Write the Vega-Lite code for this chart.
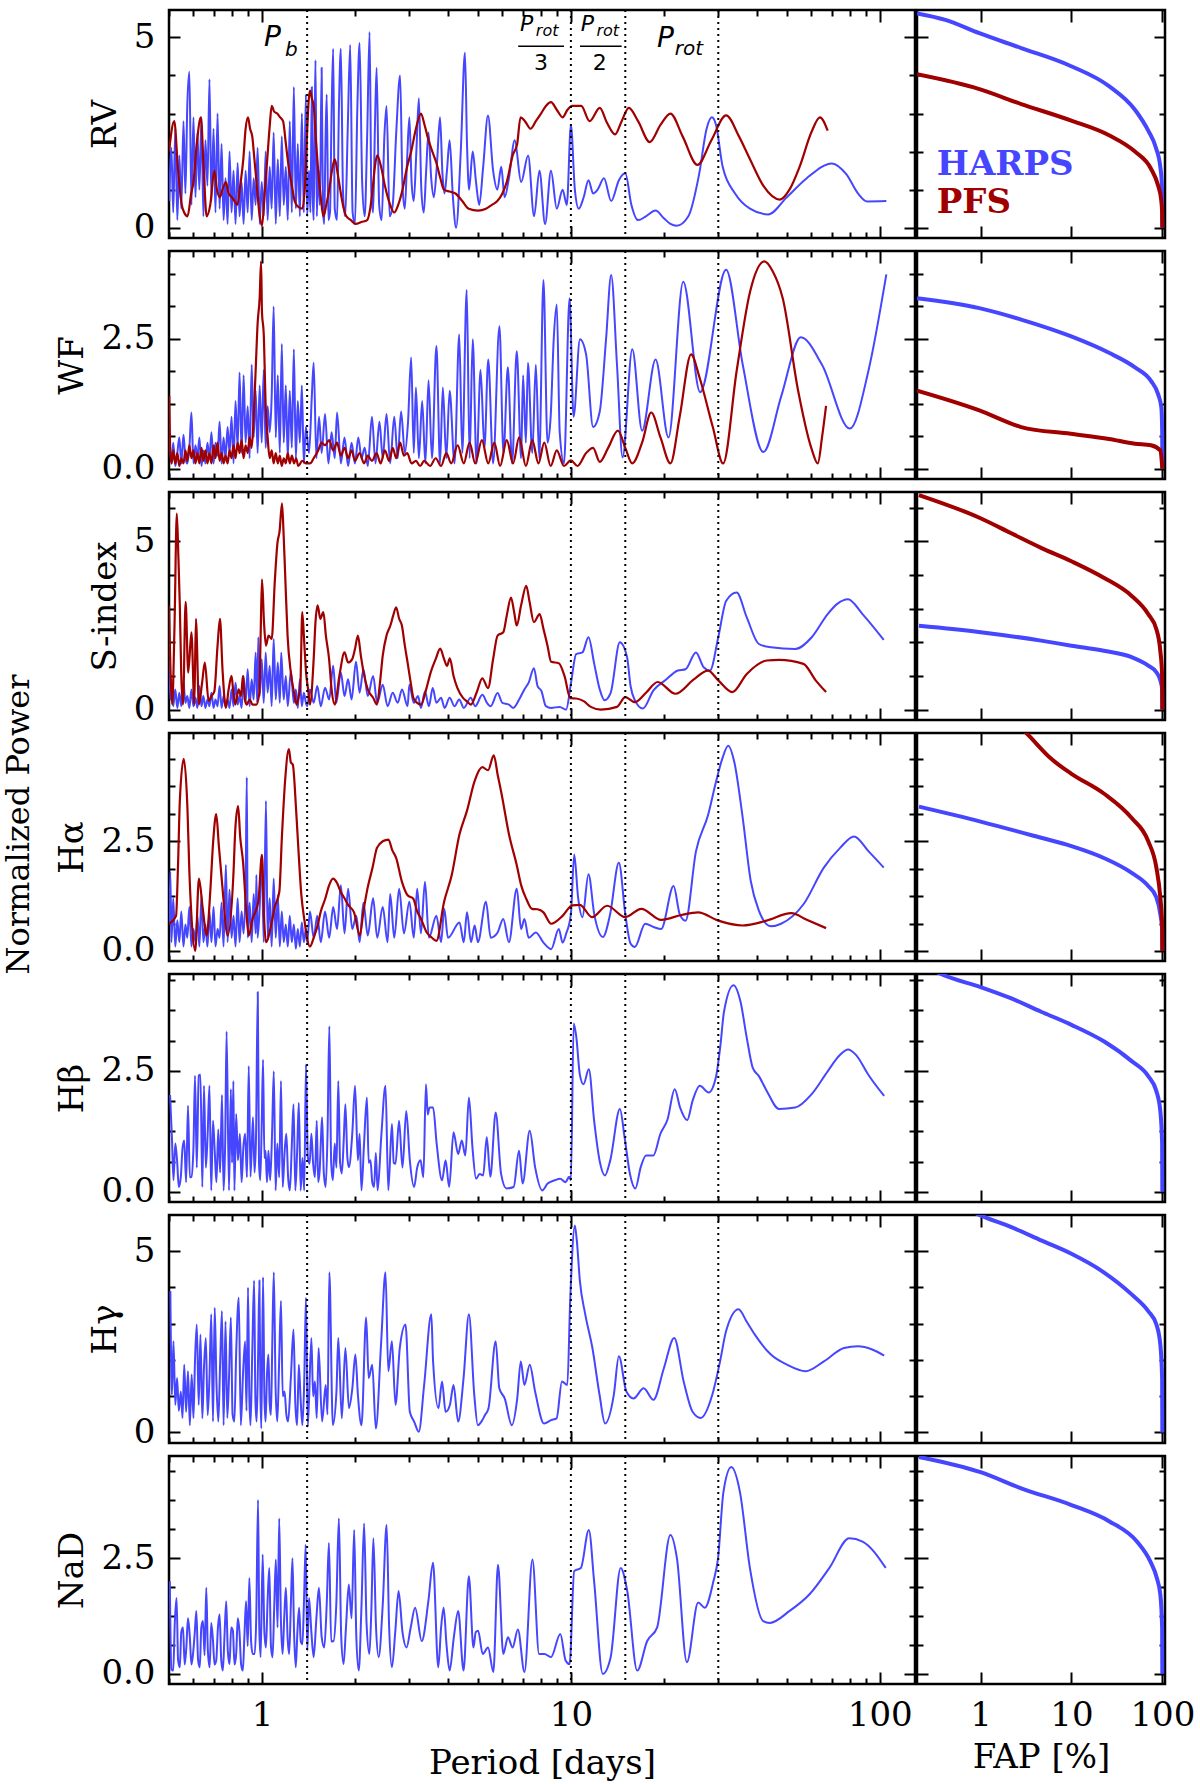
{
  "$schema": "https://vega.github.io/schema/vega-lite/v6.json",
  "background": "white",
  "padding": {"left": 2, "top": 7, "right": 4, "bottom": 4},
  "bounds": "flush",
  "title": {"text": "Normalized Power", "orient": "left", "anchor": "middle", "font": "DejaVu Serif", "fontSize": 32, "fontWeight": "normal", "color": "black", "offset": 19, "dx": 70},
  "datasets": {
    "lines": [{"p": 1.4}, {"p": 10}, {"p": 15}, {"p": 30}],
    "annBig": [{"p": 1.015, "v": 4.98, "t": "P"}, {"p": 19.0, "v": 4.95, "t": "P"}],
    "annBigSub": [{"p": 1.187, "v": 4.68, "t": "b"}, {"p": 21.7, "v": 4.7, "t": "rot"}],
    "annSmall": [{"p": 6.84, "v": 5.36, "t": "P"}, {"p": 10.77, "v": 5.36, "t": "P"}],
    "annSmallSub": [{"p": 7.7, "v": 5.18, "t": "rot"}, {"p": 12.1, "v": 5.18, "t": "rot"}],
    "annDen": [{"p": 8.0, "v": 4.33, "t": "3"}, {"p": 12.4, "v": 4.33, "t": "2"}],
    "bars": [{"p": 6.75, "p2": 9.5, "v": 4.77}, {"p": 10.7, "p2": 14.6, "v": 4.77}],
    "legend": [{"p": 0.33, "v": 1.64, "t": "HARPS"}, {"p": 0.33, "v": 0.65, "t": "PFS"}],
    "rv_h": [{"p":0.501,"v":0.7},{"p":0.509,"v":2.1},{"p":0.516,"v":0.4},{"p":0.524,"v":2.6},{"p":0.532,"v":0.2},{"p":0.54,"v":1.9},{"p":0.548,"v":0.5},{"p":0.557,"v":2.8},{"p":0.565,"v":0.9},{"p":0.573,"v":3.2},{"p":0.582,"v":4.1},{"p":0.591,"v":0.6},{"p":0.6,"v":2.9},{"p":0.609,"v":0.8},{"p":0.618,"v":2.5},{"p":0.627,"v":1.0},{"p":0.637,"v":2.9},{"p":0.646,"v":0.3},{"p":0.656,"v":2.3},{"p":0.666,"v":1.1},{"p":0.676,"v":3.9},{"p":0.686,"v":0.7},{"p":0.697,"v":2.6},{"p":0.707,"v":0.4},{"p":0.718,"v":3.0},{"p":0.729,"v":0.5},{"p":0.74,"v":2.2},{"p":0.751,"v":0.2},{"p":0.762,"v":1.3},{"p":0.774,"v":0.1},{"p":0.785,"v":2.0},{"p":0.797,"v":0.4},{"p":0.809,"v":1.5},{"p":0.821,"v":0.1},{"p":0.834,"v":1.7},{"p":0.846,"v":0.3},{"p":0.859,"v":1.2},{"p":0.872,"v":0.1},{"p":0.885,"v":1.5},{"p":0.899,"v":0.4},{"p":0.912,"v":2.0},{"p":0.926,"v":0.2},{"p":0.94,"v":1.3},{"p":0.954,"v":0.6},{"p":0.968,"v":2.1},{"p":0.983,"v":0.1},{"p":0.998,"v":1.2},{"p":1.013,"v":0.3},{"p":1.028,"v":2.0},{"p":1.043,"v":0.2},{"p":1.059,"v":1.6},{"p":1.075,"v":0.5},{"p":1.091,"v":2.5},{"p":1.108,"v":0.1},{"p":1.125,"v":1.8},{"p":1.142,"v":0.3},{"p":1.159,"v":2.4},{"p":1.176,"v":0.6},{"p":1.194,"v":1.6},{"p":1.212,"v":0.2},{"p":1.23,"v":2.8},{"p":1.249,"v":0.4},{"p":1.268,"v":3.7},{"p":1.287,"v":0.5},{"p":1.306,"v":2.2},{"p":1.326,"v":0.3},{"p":1.346,"v":3.0},{"p":1.366,"v":0.4},{"p":1.387,"v":3.5},{"p":1.4,"v":0.3},{"p":1.42,"v":1.5},{"p":1.435,"v":0.4},{"p":1.45,"v":3.7},{"p":1.46,"v":0.8},{"p":1.47,"v":0.2},{"p":1.48,"v":2.5},{"p":1.49,"v":4.4},{"p":1.505,"v":0.3},{"p":1.52,"v":1.6},{"p":1.54,"v":0.6},{"p":1.56,"v":4.2},{"p":1.575,"v":0.5},{"p":1.59,"v":0.1},{"p":1.605,"v":2.2},{"p":1.62,"v":3.5},{"p":1.64,"v":0.2},{"p":1.66,"v":0.4},{"p":1.68,"v":3.0},{"p":1.7,"v":4.7},{"p":1.72,"v":0.5},{"p":1.75,"v":0.2},{"p":1.775,"v":3.2},{"p":1.8,"v":4.7},{"p":1.83,"v":0.9},{"p":1.86,"v":0.3},{"p":1.895,"v":2.6},{"p":1.93,"v":4.8},{"p":1.965,"v":0.4},{"p":2.0,"v":0.1},{"p":2.035,"v":3.1},{"p":2.07,"v":4.85},{"p":2.11,"v":1.2},{"p":2.15,"v":0.3},{"p":2.19,"v":2.4},{"p":2.23,"v":5.14},{"p":2.26,"v":0.9},{"p":2.29,"v":0.4},{"p":2.32,"v":2.6},{"p":2.35,"v":4.2},{"p":2.395,"v":0.6},{"p":2.44,"v":0.2},{"p":2.49,"v":2.4},{"p":2.53,"v":3.2},{"p":2.59,"v":0.3},{"p":2.65,"v":0.6},{"p":2.72,"v":2.5},{"p":2.8,"v":4.0},{"p":2.85,"v":1.1},{"p":2.9,"v":0.5},{"p":2.95,"v":1.8},{"p":3.0,"v":2.9},{"p":3.05,"v":1.2},{"p":3.1,"v":0.7},{"p":3.16,"v":2.0},{"p":3.22,"v":3.4},{"p":3.28,"v":1.0},{"p":3.34,"v":0.4},{"p":3.4,"v":1.5},{"p":3.46,"v":2.5},{"p":3.53,"v":1.3},{"p":3.6,"v":0.8},{"p":3.68,"v":1.6},{"p":3.77,"v":2.9},{"p":3.84,"v":1.4},{"p":3.9,"v":0.9},{"p":3.97,"v":1.5},{"p":4.05,"v":2.3},{"p":4.15,"v":0.8},{"p":4.25,"v":0.0},{"p":4.4,"v":2.0},{"p":4.54,"v":4.6},{"p":4.61,"v":2.2},{"p":4.68,"v":1.0},{"p":4.81,"v":2.0},{"p":4.93,"v":1.2},{"p":5.05,"v":0.6},{"p":5.2,"v":1.6},{"p":5.39,"v":2.95},{"p":5.6,"v":1.5},{"p":5.78,"v":1.0},{"p":5.95,"v":1.6},{"p":6.1,"v":0.8},{"p":6.3,"v":1.3},{"p":6.58,"v":2.3},{"p":6.9,"v":1.2},{"p":7.27,"v":1.9},{"p":7.6,"v":0.3},{"p":7.91,"v":1.5},{"p":8.25,"v":0.1},{"p":8.62,"v":1.5},{"p":9.0,"v":0.5},{"p":9.4,"v":1.0},{"p":9.7,"v":0.6},{"p":10.0,"v":2.7},{"p":10.3,"v":1.0},{"p":10.6,"v":0.5},{"p":11.0,"v":0.8},{"p":11.4,"v":1.25},{"p":11.8,"v":0.9},{"p":12.2,"v":1.0},{"p":12.8,"v":1.3},{"p":13.5,"v":0.7},{"p":14.3,"v":1.25},{"p":15.0,"v":1.43},{"p":15.7,"v":0.6},{"p":16.5,"v":0.2},{"p":17.5,"v":0.3},{"p":18.8,"v":0.45},{"p":20,"v":0.25},{"p":21,"v":0.1},{"p":22,"v":0.05},{"p":24,"v":0.3},{"p":26,"v":1.4},{"p":27.5,"v":2.6},{"p":28.6,"v":2.9},{"p":29.5,"v":2.7},{"p":31,"v":1.6},{"p":34,"v":0.9},{"p":38,"v":0.5},{"p":43.5,"v":0.35},{"p":50,"v":0.8},{"p":58,"v":1.3},{"p":70,"v":1.69},{"p":78,"v":1.4},{"p":85,"v":0.9},{"p":91,"v":0.69},{"p":105,"v":0.7}],
    "rv_p": [{"p":0.5,"v":2.0},{"p":0.52,"v":2.8},{"p":0.535,"v":1.5},{"p":0.55,"v":0.6},{"p":0.56,"v":0.4},{"p":0.574,"v":0.3},{"p":0.59,"v":0.9},{"p":0.6,"v":1.2},{"p":0.615,"v":2.2},{"p":0.634,"v":2.9},{"p":0.648,"v":1.5},{"p":0.662,"v":0.3},{"p":0.68,"v":0.6},{"p":0.701,"v":1.5},{"p":0.715,"v":1.0},{"p":0.73,"v":0.8},{"p":0.745,"v":1.0},{"p":0.764,"v":1.2},{"p":0.78,"v":0.9},{"p":0.8,"v":0.8},{"p":0.815,"v":0.7},{"p":0.832,"v":0.6},{"p":0.85,"v":1.1},{"p":0.87,"v":1.8},{"p":0.885,"v":2.6},{"p":0.901,"v":2.9},{"p":0.915,"v":2.6},{"p":0.93,"v":2.4},{"p":0.945,"v":1.8},{"p":0.96,"v":1.2},{"p":0.98,"v":0.4},{"p":1.0,"v":0.05},{"p":1.02,"v":0.9},{"p":1.04,"v":1.8},{"p":1.06,"v":2.7},{"p":1.075,"v":3.2},{"p":1.095,"v":3.05},{"p":1.12,"v":3.0},{"p":1.145,"v":2.9},{"p":1.17,"v":2.8},{"p":1.195,"v":2.2},{"p":1.22,"v":1.6},{"p":1.25,"v":1.1},{"p":1.276,"v":0.7},{"p":1.31,"v":0.55},{"p":1.35,"v":0.5},{"p":1.38,"v":1.2},{"p":1.4,"v":2.5},{"p":1.415,"v":3.3},{"p":1.43,"v":3.6},{"p":1.45,"v":3.4},{"p":1.47,"v":3.2},{"p":1.495,"v":2.3},{"p":1.52,"v":1.5},{"p":1.55,"v":0.8},{"p":1.58,"v":0.3},{"p":1.615,"v":0.6},{"p":1.65,"v":1.0},{"p":1.685,"v":1.5},{"p":1.72,"v":1.8},{"p":1.76,"v":1.4},{"p":1.8,"v":0.9},{"p":1.84,"v":0.5},{"p":1.875,"v":0.3},{"p":1.94,"v":0.2},{"p":2.01,"v":0.1},{"p":2.1,"v":0.15},{"p":2.19,"v":0.2},{"p":2.24,"v":0.5},{"p":2.28,"v":1.0},{"p":2.32,"v":1.6},{"p":2.36,"v":1.9},{"p":2.43,"v":1.6},{"p":2.5,"v":1.1},{"p":2.6,"v":0.6},{"p":2.68,"v":0.4},{"p":2.76,"v":0.6},{"p":2.85,"v":1.0},{"p":2.95,"v":1.6},{"p":3.04,"v":2.0},{"p":3.15,"v":2.6},{"p":3.27,"v":3.0},{"p":3.36,"v":2.7},{"p":3.46,"v":2.3},{"p":3.56,"v":2.0},{"p":3.67,"v":1.7},{"p":3.78,"v":1.3},{"p":3.88,"v":1.0},{"p":4.05,"v":0.95},{"p":4.23,"v":0.9},{"p":4.45,"v":0.7},{"p":4.67,"v":0.5},{"p":5.0,"v":0.45},{"p":5.31,"v":0.5},{"p":5.55,"v":0.6},{"p":5.78,"v":0.7},{"p":6.0,"v":0.9},{"p":6.2,"v":1.2},{"p":6.48,"v":1.9},{"p":6.7,"v":2.2},{"p":6.87,"v":2.9},{"p":7.1,"v":2.8},{"p":7.4,"v":2.6},{"p":7.7,"v":2.8},{"p":8.0,"v":3.0},{"p":8.3,"v":3.2},{"p":8.62,"v":3.3},{"p":9.0,"v":3.1},{"p":9.4,"v":2.9},{"p":9.75,"v":3.1},{"p":10.1,"v":3.2},{"p":10.8,"v":3.2},{"p":11.5,"v":2.8},{"p":12.4,"v":3.15},{"p":13.1,"v":2.75},{"p":13.9,"v":2.45},{"p":14.6,"v":2.8},{"p":15.4,"v":3.15},{"p":16.5,"v":2.8},{"p":18,"v":2.25},{"p":19.5,"v":2.7},{"p":21,"v":3.0},{"p":23,"v":2.4},{"p":25.7,"v":1.65},{"p":28.5,"v":2.3},{"p":31.8,"v":2.95},{"p":35,"v":2.4},{"p":38,"v":1.8},{"p":42,"v":1.1},{"p":47.5,"v":0.74},{"p":51,"v":1.0},{"p":55,"v":1.6},{"p":60,"v":2.5},{"p":64,"v":2.9},{"p":67.8,"v":2.55}],
    "wf_h": [{"p":0.501,"v":0.7},{"p":0.509,"v":0.1},{"p":0.516,"v":0.5},{"p":0.524,"v":0.05},{"p":0.532,"v":0.3},{"p":0.54,"v":0.6},{"p":0.548,"v":0.1},{"p":0.557,"v":0.65},{"p":0.565,"v":0.2},{"p":0.573,"v":0.1},{"p":0.582,"v":0.4},{"p":0.591,"v":1.08},{"p":0.6,"v":0.1},{"p":0.609,"v":0.45},{"p":0.618,"v":0.2},{"p":0.627,"v":0.6},{"p":0.637,"v":0.05},{"p":0.646,"v":0.35},{"p":0.656,"v":0.1},{"p":0.666,"v":0.5},{"p":0.676,"v":0.2},{"p":0.686,"v":0.7},{"p":0.697,"v":0.1},{"p":0.707,"v":0.5},{"p":0.718,"v":0.25},{"p":0.729,"v":0.9},{"p":0.74,"v":0.1},{"p":0.751,"v":0.6},{"p":0.762,"v":0.2},{"p":0.774,"v":0.8},{"p":0.785,"v":0.3},{"p":0.797,"v":1.0},{"p":0.809,"v":0.1},{"p":0.821,"v":1.3},{"p":0.834,"v":0.4},{"p":0.846,"v":1.85},{"p":0.859,"v":0.3},{"p":0.872,"v":1.8},{"p":0.885,"v":0.5},{"p":0.899,"v":1.2},{"p":0.912,"v":0.2},{"p":0.926,"v":2.0},{"p":0.94,"v":0.6},{"p":0.954,"v":1.5},{"p":0.968,"v":0.3},{"p":0.983,"v":1.6},{"p":0.998,"v":0.5},{"p":1.013,"v":1.9},{"p":1.028,"v":0.4},{"p":1.043,"v":1.2},{"p":1.059,"v":0.7},{"p":1.075,"v":1.4},{"p":1.091,"v":3.12},{"p":1.108,"v":0.6},{"p":1.125,"v":1.8},{"p":1.142,"v":0.3},{"p":1.159,"v":2.4},{"p":1.176,"v":0.5},{"p":1.194,"v":1.6},{"p":1.212,"v":0.2},{"p":1.23,"v":1.5},{"p":1.249,"v":0.4},{"p":1.268,"v":2.3},{"p":1.287,"v":0.2},{"p":1.306,"v":1.3},{"p":1.326,"v":0.5},{"p":1.346,"v":1.6},{"p":1.366,"v":0.1},{"p":1.387,"v":0.8},{"p":1.42,"v":0.3},{"p":1.45,"v":1.4},{"p":1.47,"v":2.04},{"p":1.5,"v":0.2},{"p":1.53,"v":1.0},{"p":1.56,"v":0.3},{"p":1.6,"v":1.05},{"p":1.64,"v":0.1},{"p":1.68,"v":0.7},{"p":1.72,"v":0.2},{"p":1.75,"v":1.08},{"p":1.8,"v":0.1},{"p":1.85,"v":0.6},{"p":1.9,"v":0.05},{"p":1.95,"v":0.5},{"p":2.0,"v":0.1},{"p":2.05,"v":0.6},{"p":2.1,"v":0.2},{"p":2.15,"v":0.4},{"p":2.2,"v":0.05},{"p":2.27,"v":1.0},{"p":2.33,"v":0.1},{"p":2.4,"v":0.9},{"p":2.46,"v":0.2},{"p":2.53,"v":1.05},{"p":2.6,"v":0.1},{"p":2.68,"v":1.0},{"p":2.75,"v":0.2},{"p":2.82,"v":1.1},{"p":2.9,"v":0.3},{"p":2.97,"v":0.9},{"p":3.04,"v":2.14},{"p":3.1,"v":0.3},{"p":3.15,"v":1.56},{"p":3.22,"v":0.2},{"p":3.3,"v":1.3},{"p":3.38,"v":0.1},{"p":3.46,"v":1.7},{"p":3.55,"v":0.2},{"p":3.67,"v":2.36},{"p":3.77,"v":0.1},{"p":3.85,"v":1.56},{"p":3.95,"v":0.2},{"p":4.05,"v":1.5},{"p":4.2,"v":0.1},{"p":4.35,"v":2.58},{"p":4.45,"v":0.3},{"p":4.6,"v":3.44},{"p":4.7,"v":0.2},{"p":4.81,"v":2.49},{"p":4.95,"v":0.1},{"p":5.1,"v":1.9},{"p":5.25,"v":0.4},{"p":5.4,"v":2.1},{"p":5.6,"v":0.1},{"p":5.87,"v":2.74},{"p":6.05,"v":0.3},{"p":6.25,"v":1.95},{"p":6.45,"v":0.1},{"p":6.68,"v":2.26},{"p":6.9,"v":0.2},{"p":7.0,"v":1.8},{"p":7.15,"v":0.5},{"p":7.26,"v":2.04},{"p":7.5,"v":0.3},{"p":7.7,"v":2.0},{"p":7.9,"v":0.2},{"p":8.15,"v":3.63},{"p":8.4,"v":0.5},{"p":8.6,"v":1.0},{"p":8.8,"v":2.5},{"p":9.0,"v":3.16},{"p":9.2,"v":0.7},{"p":9.5,"v":0.1},{"p":9.9,"v":3.28},{"p":10.2,"v":1.0},{"p":10.7,"v":2.49},{"p":11.2,"v":2.2},{"p":11.8,"v":0.8},{"p":12.4,"v":1.1},{"p":13.0,"v":2.5},{"p":13.5,"v":3.73},{"p":14.1,"v":2.0},{"p":14.7,"v":0.22},{"p":15.8,"v":2.3},{"p":17,"v":0.73},{"p":18.8,"v":2.1},{"p":20.7,"v":0.6},{"p":23.1,"v":3.6},{"p":26.2,"v":1.47},{"p":31.8,"v":3.83},{"p":36,"v":2.0},{"p":42,"v":0.32},{"p":48,"v":1.4},{"p":55.5,"v":2.53},{"p":65,"v":2.0},{"p":80,"v":0.77},{"p":92,"v":1.9},{"p":105,"v":3.74}],
    "wf_p": [{"p":0.501,"v":1.4},{"p":0.505,"v":0.3},{"p":0.51,"v":0.1},{"p":0.516,"v":0.35},{"p":0.524,"v":0.1},{"p":0.532,"v":0.3},{"p":0.54,"v":0.05},{"p":0.548,"v":0.2},{"p":0.557,"v":0.1},{"p":0.565,"v":0.35},{"p":0.573,"v":0.15},{"p":0.582,"v":0.45},{"p":0.591,"v":0.2},{"p":0.6,"v":0.35},{"p":0.609,"v":0.1},{"p":0.618,"v":0.3},{"p":0.627,"v":0.1},{"p":0.637,"v":0.4},{"p":0.646,"v":0.15},{"p":0.656,"v":0.35},{"p":0.666,"v":0.1},{"p":0.676,"v":0.3},{"p":0.686,"v":0.1},{"p":0.697,"v":0.45},{"p":0.707,"v":0.2},{"p":0.718,"v":0.5},{"p":0.729,"v":0.15},{"p":0.74,"v":0.3},{"p":0.751,"v":0.1},{"p":0.762,"v":0.25},{"p":0.774,"v":0.1},{"p":0.785,"v":0.35},{"p":0.797,"v":0.2},{"p":0.809,"v":0.45},{"p":0.821,"v":0.2},{"p":0.834,"v":0.5},{"p":0.846,"v":0.3},{"p":0.859,"v":0.55},{"p":0.872,"v":0.2},{"p":0.885,"v":0.45},{"p":0.899,"v":0.3},{"p":0.912,"v":0.6},{"p":0.926,"v":0.4},{"p":0.94,"v":1.0},{"p":0.954,"v":1.9},{"p":0.968,"v":2.8},{"p":0.983,"v":3.3},{"p":0.993,"v":3.99},{"p":1.0,"v":3.0},{"p":1.013,"v":2.6},{"p":1.028,"v":1.2},{"p":1.043,"v":0.6},{"p":1.059,"v":0.2},{"p":1.075,"v":0.35},{"p":1.091,"v":0.1},{"p":1.108,"v":0.3},{"p":1.125,"v":0.1},{"p":1.142,"v":0.25},{"p":1.159,"v":0.05},{"p":1.176,"v":0.2},{"p":1.194,"v":0.1},{"p":1.212,"v":0.3},{"p":1.23,"v":0.1},{"p":1.25,"v":0.25},{"p":1.27,"v":0.1},{"p":1.29,"v":0.2},{"p":1.31,"v":0.05},{"p":1.35,"v":0.15},{"p":1.39,"v":0.1},{"p":1.43,"v":0.1},{"p":1.47,"v":0.2},{"p":1.52,"v":0.35},{"p":1.56,"v":0.5},{"p":1.6,"v":0.45},{"p":1.65,"v":0.55},{"p":1.7,"v":0.35},{"p":1.75,"v":0.5},{"p":1.8,"v":0.25},{"p":1.85,"v":0.4},{"p":1.9,"v":0.2},{"p":1.95,"v":0.35},{"p":2.0,"v":0.15},{"p":2.07,"v":0.3},{"p":2.14,"v":0.1},{"p":2.2,"v":0.25},{"p":2.27,"v":0.15},{"p":2.35,"v":0.3},{"p":2.42,"v":0.1},{"p":2.5,"v":0.35},{"p":2.58,"v":0.15},{"p":2.65,"v":0.4},{"p":2.72,"v":0.2},{"p":2.8,"v":0.5},{"p":2.88,"v":0.25},{"p":2.95,"v":0.3},{"p":3.05,"v":0.1},{"p":3.15,"v":0.15},{"p":3.25,"v":0.05},{"p":3.35,"v":0.15},{"p":3.5,"v":0.05},{"p":3.65,"v":0.2},{"p":3.8,"v":0.05},{"p":3.95,"v":0.3},{"p":4.1,"v":0.1},{"p":4.3,"v":0.45},{"p":4.5,"v":0.1},{"p":4.7,"v":0.5},{"p":4.9,"v":0.1},{"p":5.15,"v":0.55},{"p":5.4,"v":0.1},{"p":5.65,"v":0.5},{"p":5.9,"v":0.05},{"p":6.2,"v":0.55},{"p":6.5,"v":0.1},{"p":6.8,"v":0.6},{"p":7.15,"v":0.05},{"p":7.5,"v":0.55},{"p":7.85,"v":0.1},{"p":8.2,"v":0.5},{"p":8.6,"v":0.05},{"p":9.0,"v":0.35},{"p":9.5,"v":0.05},{"p":10.0,"v":0.16},{"p":10.5,"v":0.05},{"p":11.2,"v":0.3},{"p":11.8,"v":0.4},{"p":12.4,"v":0.13},{"p":13.2,"v":0.4},{"p":14.2,"v":0.73},{"p":15.0,"v":0.4},{"p":15.8,"v":0.1},{"p":17,"v":0.5},{"p":18.2,"v":1.08},{"p":19.5,"v":0.6},{"p":21,"v":0.1},{"p":22.5,"v":1.0},{"p":24.5,"v":2.2},{"p":26.1,"v":1.75},{"p":28.8,"v":0.8},{"p":31.1,"v":0.1},{"p":34.4,"v":1.88},{"p":38,"v":3.4},{"p":42.3,"v":3.99},{"p":45,"v":3.8},{"p":48.5,"v":3.28},{"p":54.4,"v":1.5},{"p":60,"v":0.4},{"p":63,"v":0.1},{"p":65,"v":0.6},{"p":67,"v":1.21}],
    "s_h": [{"p":0.501,"v":1.47},{"p":0.505,"v":0.3},{"p":0.509,"v":0.9},{"p":0.516,"v":0.1},{"p":0.524,"v":0.6},{"p":0.532,"v":0.05},{"p":0.54,"v":0.5},{"p":0.548,"v":0.1},{"p":0.557,"v":0.8},{"p":0.565,"v":0.2},{"p":0.573,"v":0.4},{"p":0.582,"v":0.05},{"p":0.591,"v":0.6},{"p":0.6,"v":0.1},{"p":0.609,"v":0.35},{"p":0.618,"v":0.05},{"p":0.627,"v":0.7},{"p":0.637,"v":0.1},{"p":0.646,"v":0.4},{"p":0.656,"v":0.05},{"p":0.666,"v":0.3},{"p":0.676,"v":0.1},{"p":0.686,"v":0.5},{"p":0.697,"v":0.05},{"p":0.707,"v":0.3},{"p":0.718,"v":0.1},{"p":0.729,"v":0.7},{"p":0.74,"v":0.05},{"p":0.751,"v":0.4},{"p":0.762,"v":0.1},{"p":0.774,"v":0.3},{"p":0.785,"v":0.05},{"p":0.797,"v":0.6},{"p":0.809,"v":0.1},{"p":0.821,"v":0.8},{"p":0.834,"v":0.15},{"p":0.846,"v":0.4},{"p":0.859,"v":0.05},{"p":0.872,"v":1.0},{"p":0.885,"v":0.2},{"p":0.899,"v":1.2},{"p":0.912,"v":0.1},{"p":0.926,"v":0.9},{"p":0.94,"v":0.3},{"p":0.954,"v":1.7},{"p":0.965,"v":0.2},{"p":0.973,"v":2.15},{"p":0.983,"v":0.4},{"p":0.998,"v":1.5},{"p":1.013,"v":0.2},{"p":1.028,"v":1.7},{"p":1.043,"v":0.5},{"p":1.059,"v":1.3},{"p":1.075,"v":0.1},{"p":1.091,"v":2.1},{"p":1.108,"v":0.3},{"p":1.125,"v":1.4},{"p":1.142,"v":0.2},{"p":1.154,"v":1.7},{"p":1.176,"v":0.3},{"p":1.194,"v":1.0},{"p":1.212,"v":0.1},{"p":1.24,"v":1.15},{"p":1.268,"v":0.2},{"p":1.287,"v":0.6},{"p":1.306,"v":0.05},{"p":1.326,"v":0.9},{"p":1.346,"v":0.1},{"p":1.366,"v":0.5},{"p":1.387,"v":0.2},{"p":1.4,"v":0.1},{"p":1.43,"v":0.6},{"p":1.47,"v":0.2},{"p":1.51,"v":0.7},{"p":1.55,"v":0.1},{"p":1.6,"v":0.65},{"p":1.65,"v":0.3},{"p":1.7,"v":1.3},{"p":1.74,"v":0.2},{"p":1.8,"v":1.1},{"p":1.85,"v":0.4},{"p":1.9,"v":0.9},{"p":1.95,"v":0.3},{"p":2.015,"v":1.42},{"p":2.07,"v":0.5},{"p":2.13,"v":1.2},{"p":2.2,"v":0.4},{"p":2.29,"v":1.0},{"p":2.36,"v":0.2},{"p":2.46,"v":0.74},{"p":2.55,"v":0.1},{"p":2.65,"v":0.5},{"p":2.75,"v":0.2},{"p":2.84,"v":0.6},{"p":2.96,"v":0.1},{"p":3.0,"v":0.74},{"p":3.1,"v":0.2},{"p":3.2,"v":0.4},{"p":3.27,"v":0.05},{"p":3.37,"v":0.54},{"p":3.47,"v":0.1},{"p":3.57,"v":0.64},{"p":3.67,"v":0.2},{"p":3.8,"v":0.35},{"p":3.9,"v":0.05},{"p":4.05,"v":0.35},{"p":4.2,"v":0.1},{"p":4.35,"v":0.3},{"p":4.5,"v":0.05},{"p":4.74,"v":0.35},{"p":4.9,"v":0.1},{"p":5.17,"v":0.44},{"p":5.35,"v":0.2},{"p":5.5,"v":0.1},{"p":5.79,"v":0.49},{"p":6.0,"v":0.2},{"p":6.3,"v":0.15},{"p":6.5,"v":0.05},{"p":6.8,"v":0.3},{"p":7.07,"v":0.6},{"p":7.3,"v":0.8},{"p":7.59,"v":1.23},{"p":7.8,"v":0.7},{"p":8.03,"v":0.55},{"p":8.3,"v":0.1},{"p":8.63,"v":0.05},{"p":9.2,"v":0.08},{"p":9.65,"v":0.0},{"p":10.0,"v":0.77},{"p":10.4,"v":1.65},{"p":10.9,"v":1.7},{"p":11.4,"v":2.15},{"p":11.9,"v":1.36},{"p":12.4,"v":0.6},{"p":12.85,"v":0.28},{"p":13.45,"v":0.5},{"p":14.4,"v":2.0},{"p":15.2,"v":1.56},{"p":15.6,"v":0.7},{"p":16.1,"v":0.28},{"p":17.1,"v":0.03},{"p":18.5,"v":0.57},{"p":20.2,"v":0.87},{"p":22.2,"v":1.16},{"p":23.5,"v":1.2},{"p":25.4,"v":1.7},{"p":26.9,"v":1.26},{"p":28.2,"v":1.16},{"p":30.0,"v":2.15},{"p":31.8,"v":3.23},{"p":34.4,"v":3.48},{"p":37.1,"v":2.74},{"p":40.6,"v":1.95},{"p":44.4,"v":1.85},{"p":53.2,"v":1.8},{"p":60.2,"v":2.15},{"p":67.8,"v":2.84},{"p":73,"v":3.15},{"p":78.9,"v":3.28},{"p":87.9,"v":2.84},{"p":103,"v":2.07}],
    "s_p": [{"p":0.5,"v":3.1},{"p":0.512,"v":0.15},{"p":0.521,"v":2.5},{"p":0.53,"v":5.83},{"p":0.536,"v":4.6},{"p":0.542,"v":3.1},{"p":0.548,"v":1.0},{"p":0.555,"v":0.15},{"p":0.566,"v":3.2},{"p":0.577,"v":1.1},{"p":0.591,"v":2.3},{"p":0.604,"v":0.15},{"p":0.611,"v":2.7},{"p":0.625,"v":0.15},{"p":0.64,"v":0.8},{"p":0.653,"v":1.4},{"p":0.672,"v":0.25},{"p":0.686,"v":0.4},{"p":0.701,"v":0.54},{"p":0.718,"v":1.9},{"p":0.731,"v":2.7},{"p":0.745,"v":1.2},{"p":0.764,"v":0.05},{"p":0.78,"v":0.6},{"p":0.797,"v":1.0},{"p":0.808,"v":0.5},{"p":0.82,"v":0.15},{"p":0.84,"v":0.6},{"p":0.855,"v":0.4},{"p":0.868,"v":1.0},{"p":0.88,"v":0.3},{"p":0.893,"v":0.15},{"p":0.912,"v":0.3},{"p":0.932,"v":0.15},{"p":0.959,"v":0.15},{"p":0.98,"v":0.5},{"p":0.99,"v":2.2},{"p":1.0,"v":3.87},{"p":1.015,"v":2.6},{"p":1.03,"v":1.9},{"p":1.05,"v":2.2},{"p":1.075,"v":2.1},{"p":1.1,"v":3.8},{"p":1.122,"v":4.95},{"p":1.14,"v":5.3},{"p":1.161,"v":6.13},{"p":1.175,"v":5.2},{"p":1.188,"v":4.07},{"p":1.21,"v":2.2},{"p":1.24,"v":1.1},{"p":1.27,"v":0.5},{"p":1.294,"v":0.15},{"p":1.315,"v":0.4},{"p":1.331,"v":0.7},{"p":1.35,"v":2.9},{"p":1.37,"v":2.0},{"p":1.389,"v":1.1},{"p":1.41,"v":0.6},{"p":1.43,"v":0.15},{"p":1.47,"v":1.5},{"p":1.49,"v":2.6},{"p":1.514,"v":3.1},{"p":1.545,"v":2.7},{"p":1.58,"v":2.9},{"p":1.61,"v":2.2},{"p":1.649,"v":1.5},{"p":1.68,"v":0.6},{"p":1.721,"v":0.15},{"p":1.78,"v":1.0},{"p":1.85,"v":1.7},{"p":1.9,"v":1.4},{"p":1.959,"v":1.5},{"p":2.0,"v":1.8},{"p":2.044,"v":2.2},{"p":2.09,"v":1.6},{"p":2.133,"v":1.1},{"p":2.2,"v":0.6},{"p":2.29,"v":0.35},{"p":2.356,"v":0.15},{"p":2.41,"v":0.8},{"p":2.459,"v":1.6},{"p":2.53,"v":2.2},{"p":2.604,"v":2.5},{"p":2.66,"v":2.8},{"p":2.718,"v":3.04},{"p":2.78,"v":2.7},{"p":2.837,"v":2.5},{"p":2.9,"v":1.9},{"p":2.96,"v":1.4},{"p":3.03,"v":0.8},{"p":3.09,"v":0.35},{"p":3.18,"v":0.2},{"p":3.272,"v":0.15},{"p":3.4,"v":0.6},{"p":3.515,"v":1.1},{"p":3.65,"v":1.5},{"p":3.776,"v":1.81},{"p":3.886,"v":1.5},{"p":3.97,"v":1.3},{"p":4.056,"v":1.52},{"p":4.17,"v":1.0},{"p":4.293,"v":0.64},{"p":4.481,"v":0.34},{"p":4.6,"v":0.25},{"p":4.744,"v":0.15},{"p":4.95,"v":0.5},{"p":5.167,"v":0.93},{"p":5.393,"v":0.64},{"p":5.6,"v":1.5},{"p":5.79,"v":2.2},{"p":6.042,"v":2.3},{"p":6.2,"v":2.8},{"p":6.398,"v":3.33},{"p":6.55,"v":2.9},{"p":6.677,"v":2.5},{"p":6.9,"v":3.1},{"p":7.168,"v":3.68},{"p":7.35,"v":3.2},{"p":7.589,"v":2.6},{"p":7.921,"v":2.84},{"p":8.15,"v":2.4},{"p":8.4,"v":1.9},{"p":8.629,"v":1.42},{"p":9.136,"v":1.38},{"p":9.535,"v":1.0},{"p":9.953,"v":0.34},{"p":10.4,"v":0.33},{"p":11.0,"v":0.25},{"p":11.6,"v":0.08},{"p":12.5,"v":0.0},{"p":14.1,"v":0.08},{"p":15.0,"v":0.37},{"p":16.1,"v":0.22},{"p":17.5,"v":0.5},{"p":19.1,"v":0.82},{"p":21.8,"v":0.47},{"p":25,"v":0.9},{"p":27.8,"v":1.16},{"p":30,"v":0.87},{"p":33.3,"v":0.52},{"p":37.1,"v":1.06},{"p":43.1,"v":1.46},{"p":47.2,"v":1.48},{"p":56.6,"v":1.36},{"p":62,"v":0.87},{"p":67,"v":0.52}],
    "ha_h": [{"p":0.501,"v":0.6},{"p":0.505,"v":1.8},{"p":0.509,"v":0.2},{"p":0.516,"v":1.2},{"p":0.524,"v":0.1},{"p":0.532,"v":0.7},{"p":0.54,"v":0.2},{"p":0.548,"v":0.9},{"p":0.557,"v":0.1},{"p":0.565,"v":0.6},{"p":0.573,"v":0.3},{"p":0.582,"v":1.0},{"p":0.591,"v":0.1},{"p":0.6,"v":0.5},{"p":0.609,"v":0.2},{"p":0.618,"v":0.8},{"p":0.627,"v":0.1},{"p":0.637,"v":1.27},{"p":0.646,"v":0.2},{"p":0.656,"v":0.6},{"p":0.666,"v":0.1},{"p":0.676,"v":0.9},{"p":0.686,"v":0.2},{"p":0.697,"v":1.0},{"p":0.707,"v":0.1},{"p":0.718,"v":0.5},{"p":0.729,"v":0.3},{"p":0.74,"v":1.1},{"p":0.751,"v":0.1},{"p":0.764,"v":1.96},{"p":0.774,"v":0.2},{"p":0.785,"v":1.4},{"p":0.797,"v":0.3},{"p":0.809,"v":0.8},{"p":0.821,"v":0.1},{"p":0.834,"v":1.2},{"p":0.846,"v":0.2},{"p":0.859,"v":0.9},{"p":0.872,"v":0.4},{"p":0.885,"v":1.5},{"p":0.893,"v":3.96},{"p":0.899,"v":0.3},{"p":0.912,"v":1.1},{"p":0.926,"v":0.2},{"p":0.94,"v":1.3},{"p":0.954,"v":0.4},{"p":0.959,"v":1.73},{"p":0.968,"v":0.3},{"p":0.983,"v":1.0},{"p":0.998,"v":2.19},{"p":1.013,"v":0.2},{"p":1.03,"v":3.42},{"p":1.043,"v":0.3},{"p":1.059,"v":1.2},{"p":1.075,"v":0.1},{"p":1.091,"v":1.65},{"p":1.108,"v":0.3},{"p":1.125,"v":1.27},{"p":1.142,"v":0.1},{"p":1.159,"v":0.9},{"p":1.176,"v":0.2},{"p":1.194,"v":0.6},{"p":1.212,"v":0.1},{"p":1.23,"v":0.8},{"p":1.249,"v":0.2},{"p":1.268,"v":0.6},{"p":1.287,"v":0.05},{"p":1.306,"v":0.5},{"p":1.326,"v":0.1},{"p":1.346,"v":0.65},{"p":1.366,"v":0.2},{"p":1.387,"v":0.5},{"p":1.4,"v":0.2},{"p":1.43,"v":0.9},{"p":1.47,"v":0.3},{"p":1.51,"v":0.8},{"p":1.55,"v":0.2},{"p":1.6,"v":0.9},{"p":1.65,"v":0.3},{"p":1.7,"v":1.0},{"p":1.75,"v":0.5},{"p":1.8,"v":1.5},{"p":1.85,"v":0.4},{"p":1.9,"v":1.42},{"p":1.96,"v":0.5},{"p":2.02,"v":0.8},{"p":2.07,"v":0.2},{"p":2.13,"v":1.1},{"p":2.2,"v":0.35},{"p":2.29,"v":1.2},{"p":2.36,"v":0.3},{"p":2.46,"v":1.0},{"p":2.55,"v":0.2},{"p":2.6,"v":1.3},{"p":2.68,"v":0.3},{"p":2.78,"v":1.42},{"p":2.88,"v":0.4},{"p":3.0,"v":1.12},{"p":3.1,"v":0.3},{"p":3.18,"v":1.42},{"p":3.27,"v":0.4},{"p":3.37,"v":1.58},{"p":3.47,"v":0.3},{"p":3.67,"v":0.8},{"p":3.8,"v":0.2},{"p":3.89,"v":0.96},{"p":4.0,"v":0.3},{"p":4.36,"v":0.65},{"p":4.5,"v":0.2},{"p":4.61,"v":0.88},{"p":4.75,"v":0.2},{"p":4.88,"v":0.58},{"p":5.0,"v":0.2},{"p":5.31,"v":1.12},{"p":5.5,"v":0.3},{"p":5.79,"v":0.42},{"p":6.04,"v":0.73},{"p":6.3,"v":0.2},{"p":6.68,"v":1.42},{"p":6.9,"v":0.5},{"p":7.07,"v":0.73},{"p":7.3,"v":0.3},{"p":7.7,"v":0.42},{"p":8.15,"v":0.19},{"p":8.63,"v":0.04},{"p":9.14,"v":0.5},{"p":9.4,"v":0.19},{"p":9.65,"v":0.39},{"p":10.0,"v":0.84},{"p":10.25,"v":2.2},{"p":10.55,"v":1.22},{"p":10.9,"v":0.77},{"p":11.4,"v":1.75},{"p":11.9,"v":0.84},{"p":12.7,"v":0.32},{"p":13.4,"v":0.84},{"p":14.3,"v":2.01},{"p":15.0,"v":0.84},{"p":15.6,"v":0.17},{"p":16.1,"v":0.09},{"p":17.4,"v":0.62},{"p":18.6,"v":0.54},{"p":19.6,"v":0.5},{"p":21.5,"v":1.48},{"p":22.5,"v":0.84},{"p":23.5,"v":0.69},{"p":25.4,"v":2.27},{"p":27.8,"v":3.1},{"p":29.5,"v":3.86},{"p":30.9,"v":4.38},{"p":32.3,"v":4.68},{"p":33.8,"v":4.31},{"p":36,"v":3.03},{"p":38.2,"v":1.6},{"p":40.6,"v":0.92},{"p":44.4,"v":0.56},{"p":47.9,"v":0.62},{"p":56.7,"v":1.07},{"p":65.9,"v":1.9},{"p":74.4,"v":2.35},{"p":82.5,"v":2.61},{"p":92,"v":2.27},{"p":103,"v":1.9}],
    "ha_p": [{"p":0.5,"v":0.62},{"p":0.527,"v":0.8},{"p":0.535,"v":2.0},{"p":0.542,"v":3.42},{"p":0.558,"v":4.38},{"p":0.574,"v":3.2},{"p":0.582,"v":1.8},{"p":0.591,"v":0.8},{"p":0.608,"v":0.0},{"p":0.625,"v":1.65},{"p":0.643,"v":0.97},{"p":0.662,"v":0.35},{"p":0.681,"v":1.42},{"p":0.695,"v":2.5},{"p":0.711,"v":3.12},{"p":0.725,"v":2.4},{"p":0.742,"v":1.58},{"p":0.775,"v":0.35},{"p":0.808,"v":1.73},{"p":0.82,"v":2.8},{"p":0.837,"v":3.3},{"p":0.85,"v":2.6},{"p":0.868,"v":2.04},{"p":0.89,"v":0.9},{"p":0.906,"v":0.35},{"p":0.932,"v":0.73},{"p":0.973,"v":1.12},{"p":1.0,"v":2.19},{"p":1.015,"v":0.8},{"p":1.03,"v":0.2},{"p":1.075,"v":0.65},{"p":1.1,"v":1.0},{"p":1.138,"v":1.35},{"p":1.16,"v":2.6},{"p":1.188,"v":3.88},{"p":1.222,"v":4.6},{"p":1.24,"v":4.3},{"p":1.258,"v":4.25},{"p":1.29,"v":3.2},{"p":1.313,"v":2.27},{"p":1.34,"v":1.3},{"p":1.37,"v":0.73},{"p":1.43,"v":0.1},{"p":1.47,"v":0.3},{"p":1.514,"v":0.58},{"p":1.55,"v":0.9},{"p":1.602,"v":1.19},{"p":1.65,"v":1.5},{"p":1.697,"v":1.65},{"p":1.75,"v":1.55},{"p":1.797,"v":1.35},{"p":1.85,"v":1.2},{"p":1.904,"v":1.04},{"p":1.986,"v":0.88},{"p":2.073,"v":0.35},{"p":2.13,"v":0.9},{"p":2.195,"v":1.42},{"p":2.28,"v":1.9},{"p":2.356,"v":2.35},{"p":2.459,"v":2.5},{"p":2.567,"v":2.54},{"p":2.64,"v":2.3},{"p":2.718,"v":2.12},{"p":2.837,"v":1.58},{"p":2.96,"v":1.27},{"p":3.09,"v":1.19},{"p":3.18,"v":0.9},{"p":3.272,"v":0.73},{"p":3.416,"v":0.42},{"p":3.55,"v":0.3},{"p":3.67,"v":0.23},{"p":3.886,"v":1.12},{"p":4.114,"v":1.73},{"p":4.355,"v":2.65},{"p":4.61,"v":3.2},{"p":4.881,"v":3.88},{"p":5.167,"v":4.19},{"p":5.393,"v":4.12},{"p":5.628,"v":4.46},{"p":5.8,"v":4.0},{"p":5.957,"v":3.6},{"p":6.307,"v":2.65},{"p":6.677,"v":1.96},{"p":6.9,"v":1.5},{"p":7.168,"v":1.19},{"p":7.482,"v":0.96},{"p":7.8,"v":0.95},{"p":8.15,"v":0.88},{"p":8.629,"v":0.62},{"p":9.4,"v":0.8},{"p":10.1,"v":1.04},{"p":10.7,"v":1.05},{"p":11.7,"v":0.77},{"p":13.1,"v":1.03},{"p":15.0,"v":0.77},{"p":16.9,"v":0.96},{"p":19.6,"v":0.71},{"p":22.8,"v":0.82},{"p":25.8,"v":0.88},{"p":30,"v":0.69},{"p":36,"v":0.58},{"p":43,"v":0.69},{"p":51.7,"v":0.86},{"p":58,"v":0.71},{"p":67,"v":0.52}],
    "hb_h": [{"p":0.504,"v":2.0},{"p":0.511,"v":1.13},{"p":0.517,"v":0.24},{"p":0.524,"v":1.0},{"p":0.531,"v":0.65},{"p":0.538,"v":0.1},{"p":0.546,"v":0.31},{"p":0.553,"v":0.9},{"p":0.56,"v":1.06},{"p":0.568,"v":0.2},{"p":0.576,"v":1.78},{"p":0.584,"v":0.3},{"p":0.591,"v":0.31},{"p":0.6,"v":0.92},{"p":0.607,"v":2.4},{"p":0.615,"v":0.5},{"p":0.624,"v":2.4},{"p":0.632,"v":2.42},{"p":0.641,"v":0.1},{"p":0.649,"v":2.19},{"p":0.658,"v":0.5},{"p":0.667,"v":1.2},{"p":0.676,"v":2.19},{"p":0.685,"v":0.03},{"p":0.694,"v":1.47},{"p":0.703,"v":0.85},{"p":0.712,"v":0.2},{"p":0.722,"v":1.29},{"p":0.732,"v":0.4},{"p":0.742,"v":2.0},{"p":0.751,"v":0.03},{"p":0.76,"v":1.0},{"p":0.768,"v":3.31},{"p":0.782,"v":0.03},{"p":0.793,"v":2.12},{"p":0.8,"v":0.6},{"p":0.808,"v":2.29},{"p":0.814,"v":0.03},{"p":0.825,"v":1.61},{"p":0.836,"v":0.65},{"p":0.848,"v":1.2},{"p":0.859,"v":0.2},{"p":0.87,"v":0.9},{"p":0.882,"v":1.2},{"p":0.894,"v":0.3},{"p":0.906,"v":2.6},{"p":0.918,"v":0.31},{"p":0.935,"v":1.54},{"p":0.946,"v":0.4},{"p":0.956,"v":1.06},{"p":0.969,"v":4.13},{"p":0.978,"v":0.6},{"p":0.987,"v":0.24},{"p":0.998,"v":1.4},{"p":1.008,"v":2.73},{"p":1.018,"v":0.7},{"p":1.027,"v":0.85},{"p":1.038,"v":0.2},{"p":1.049,"v":0.85},{"p":1.063,"v":0.24},{"p":1.078,"v":1.2},{"p":1.092,"v":2.49},{"p":1.107,"v":0.03},{"p":1.121,"v":1.0},{"p":1.137,"v":0.3},{"p":1.152,"v":2.29},{"p":1.167,"v":0.1},{"p":1.183,"v":0.8},{"p":1.199,"v":1.2},{"p":1.215,"v":0.3},{"p":1.231,"v":0.03},{"p":1.248,"v":0.9},{"p":1.265,"v":1.81},{"p":1.282,"v":0.03},{"p":1.299,"v":0.8},{"p":1.316,"v":1.84},{"p":1.334,"v":0.03},{"p":1.352,"v":0.7},{"p":1.37,"v":0.03},{"p":1.388,"v":2.63},{"p":1.407,"v":0.72},{"p":1.426,"v":0.58},{"p":1.445,"v":1.2},{"p":1.464,"v":0.58},{"p":1.484,"v":0.3},{"p":1.504,"v":1.47},{"p":1.52,"v":0.2},{"p":1.537,"v":0.44},{"p":1.55,"v":1.0},{"p":1.565,"v":1.54},{"p":1.585,"v":0.4},{"p":1.608,"v":0.1},{"p":1.63,"v":1.2},{"p":1.652,"v":3.42},{"p":1.675,"v":0.6},{"p":1.696,"v":0.24},{"p":1.72,"v":1.0},{"p":1.742,"v":0.5},{"p":1.766,"v":2.29},{"p":1.79,"v":0.6},{"p":1.813,"v":0.38},{"p":1.84,"v":1.1},{"p":1.862,"v":1.81},{"p":1.89,"v":0.7},{"p":1.912,"v":0.51},{"p":1.96,"v":1.2},{"p":2.001,"v":2.19},{"p":2.044,"v":0.65},{"p":2.07,"v":1.2},{"p":2.099,"v":0.03},{"p":2.14,"v":1.0},{"p":2.186,"v":1.95},{"p":2.215,"v":0.6},{"p":2.245,"v":0.65},{"p":2.275,"v":0.2},{"p":2.306,"v":0.1},{"p":2.336,"v":0.8},{"p":2.368,"v":0.03},{"p":2.432,"v":1.13},{"p":2.511,"v":2.19},{"p":2.564,"v":0.03},{"p":2.634,"v":1.4},{"p":2.67,"v":0.6},{"p":2.705,"v":0.58},{"p":2.778,"v":1.47},{"p":2.85,"v":0.5},{"p":2.931,"v":1.67},{"p":3.01,"v":0.65},{"p":3.108,"v":0.1},{"p":3.18,"v":0.5},{"p":3.261,"v":0.65},{"p":3.33,"v":0.3},{"p":3.394,"v":2.22},{"p":3.44,"v":1.6},{"p":3.486,"v":1.74},{"p":3.58,"v":1.74},{"p":3.677,"v":0.99},{"p":3.827,"v":0.24},{"p":3.93,"v":0.65},{"p":4.036,"v":0.1},{"p":4.169,"v":1.23},{"p":4.315,"v":0.78},{"p":4.434,"v":1.06},{"p":4.553,"v":0.75},{"p":4.676,"v":1.95},{"p":4.801,"v":0.92},{"p":4.931,"v":0.27},{"p":5.064,"v":0.37},{"p":5.201,"v":0.34},{"p":5.341,"v":1.13},{"p":5.485,"v":0.31},{"p":5.709,"v":1.64},{"p":5.943,"v":0.37},{"p":6.186,"v":0.07},{"p":6.526,"v":0.1},{"p":6.793,"v":0.85},{"p":6.977,"v":0.17},{"p":7.358,"v":1.26},{"p":7.658,"v":0.51},{"p":8.077,"v":0.03},{"p":8.407,"v":0.17},{"p":8.871,"v":0.24},{"p":9.232,"v":0.27},{"p":9.607,"v":0.2},{"p":9.867,"v":0.31},{"p":10.0,"v":0.24},{"p":10.21,"v":3.48},{"p":10.41,"v":3.2},{"p":10.69,"v":2.42},{"p":10.98,"v":2.22},{"p":11.43,"v":2.53},{"p":11.89,"v":1.47},{"p":12.38,"v":0.65},{"p":12.89,"v":0.34},{"p":13.41,"v":0.65},{"p":14.41,"v":1.71},{"p":14.92,"v":1.13},{"p":15.53,"v":0.37},{"p":16.17,"v":0.07},{"p":16.83,"v":0.51},{"p":17.51,"v":0.75},{"p":18.48,"v":0.75},{"p":19.49,"v":1.2},{"p":20.56,"v":1.5},{"p":21.68,"v":2.12},{"p":22.57,"v":1.74},{"p":23.8,"v":1.48},{"p":24.77,"v":1.88},{"p":26.14,"v":2.19},{"p":27.93,"v":2.05},{"p":29.46,"v":2.36},{"p":30.5,"v":3.04},{"p":31.3,"v":3.72},{"p":33.6,"v":4.27},{"p":35.4,"v":3.93},{"p":37.1,"v":3.18},{"p":38.8,"v":2.56},{"p":40.6,"v":2.39},{"p":43.1,"v":2.08},{"p":47.2,"v":1.71},{"p":53.2,"v":1.74},{"p":60.2,"v":2.02},{"p":67.8,"v":2.49},{"p":74.4,"v":2.83},{"p":78.9,"v":2.94},{"p":83.7,"v":2.83},{"p":91.8,"v":2.42},{"p":103.3,"v":1.98}],
    "hg_h": [{"p":0.505,"v":3.9},{"p":0.511,"v":1.04},{"p":0.517,"v":2.52},{"p":0.524,"v":0.76},{"p":0.531,"v":1.5},{"p":0.538,"v":0.6},{"p":0.546,"v":1.13},{"p":0.553,"v":0.4},{"p":0.56,"v":1.87},{"p":0.568,"v":0.57},{"p":0.576,"v":1.69},{"p":0.584,"v":0.2},{"p":0.592,"v":1.6},{"p":0.6,"v":0.4},{"p":0.607,"v":2.0},{"p":0.615,"v":2.98},{"p":0.624,"v":0.76},{"p":0.632,"v":2.7},{"p":0.641,"v":0.39},{"p":0.649,"v":1.8},{"p":0.658,"v":2.61},{"p":0.667,"v":0.48},{"p":0.676,"v":1.5},{"p":0.685,"v":3.26},{"p":0.694,"v":0.3},{"p":0.703,"v":3.44},{"p":0.712,"v":1.4},{"p":0.722,"v":0.3},{"p":0.732,"v":1.9},{"p":0.742,"v":3.35},{"p":0.751,"v":0.2},{"p":0.762,"v":3.06},{"p":0.772,"v":0.4},{"p":0.782,"v":1.5},{"p":0.793,"v":3.17},{"p":0.803,"v":0.5},{"p":0.814,"v":0.3},{"p":0.825,"v":2.2},{"p":0.841,"v":3.72},{"p":0.854,"v":0.2},{"p":0.868,"v":1.6},{"p":0.882,"v":2.52},{"p":0.891,"v":0.6},{"p":0.901,"v":4.0},{"p":0.91,"v":1.0},{"p":0.918,"v":0.2},{"p":0.93,"v":2.2},{"p":0.943,"v":4.19},{"p":0.952,"v":0.9},{"p":0.961,"v":0.3},{"p":0.971,"v":2.0},{"p":0.981,"v":4.19},{"p":0.988,"v":1.2},{"p":0.995,"v":0.11},{"p":1.008,"v":4.28},{"p":1.018,"v":1.0},{"p":1.027,"v":0.3},{"p":1.038,"v":1.6},{"p":1.049,"v":2.15},{"p":1.059,"v":0.8},{"p":1.069,"v":0.48},{"p":1.08,"v":2.5},{"p":1.092,"v":4.42},{"p":1.107,"v":1.2},{"p":1.121,"v":0.3},{"p":1.136,"v":1.9},{"p":1.152,"v":3.63},{"p":1.167,"v":1.0},{"p":1.183,"v":1.13},{"p":1.199,"v":0.5},{"p":1.215,"v":0.3},{"p":1.24,"v":1.5},{"p":1.265,"v":2.84},{"p":1.282,"v":0.8},{"p":1.299,"v":0.2},{"p":1.316,"v":1.87},{"p":1.334,"v":0.9},{"p":1.352,"v":0.2},{"p":1.37,"v":1.4},{"p":1.388,"v":3.72},{"p":1.407,"v":0.16},{"p":1.445,"v":2.61},{"p":1.464,"v":1.0},{"p":1.484,"v":1.41},{"p":1.504,"v":0.4},{"p":1.525,"v":2.33},{"p":1.565,"v":0.3},{"p":1.608,"v":1.31},{"p":1.63,"v":0.5},{"p":1.652,"v":4.42},{"p":1.696,"v":0.2},{"p":1.742,"v":1.13},{"p":1.766,"v":2.61},{"p":1.813,"v":0.39},{"p":1.862,"v":2.33},{"p":1.912,"v":0.67},{"p":1.96,"v":1.2},{"p":2.006,"v":2.15},{"p":2.044,"v":1.04},{"p":2.099,"v":0.2},{"p":2.174,"v":3.17},{"p":2.215,"v":1.5},{"p":2.275,"v":1.87},{"p":2.336,"v":0.11},{"p":2.432,"v":2.52},{"p":2.511,"v":4.42},{"p":2.564,"v":1.69},{"p":2.634,"v":2.52},{"p":2.705,"v":0.76},{"p":2.793,"v":2.33},{"p":2.915,"v":2.98},{"p":3.01,"v":0.57},{"p":3.108,"v":0.3},{"p":3.218,"v":0.02},{"p":3.349,"v":1.31},{"p":3.533,"v":3.26},{"p":3.58,"v":1.96},{"p":3.726,"v":0.67},{"p":3.827,"v":1.41},{"p":3.93,"v":0.57},{"p":4.058,"v":0.76},{"p":4.169,"v":1.31},{"p":4.315,"v":0.3},{"p":4.493,"v":1.5},{"p":4.676,"v":3.26},{"p":4.866,"v":1.04},{"p":4.997,"v":0.2},{"p":5.132,"v":0.3},{"p":5.27,"v":0.48},{"p":5.412,"v":0.67},{"p":5.709,"v":2.52},{"p":5.864,"v":1.22},{"p":6.105,"v":0.94},{"p":6.439,"v":0.2},{"p":6.703,"v":0.94},{"p":6.884,"v":1.96},{"p":7.07,"v":1.31},{"p":7.358,"v":1.87},{"p":7.658,"v":1.13},{"p":8.186,"v":0.25},{"p":8.634,"v":0.34},{"p":8.989,"v":0.39},{"p":9.355,"v":1.41},{"p":9.737,"v":1.31},{"p":9.947,"v":3.63},{"p":10.3,"v":5.71},{"p":10.45,"v":5.3},{"p":10.69,"v":4.19},{"p":11.13,"v":3.26},{"p":11.74,"v":2.33},{"p":12.38,"v":1.04},{"p":12.9,"v":0.25},{"p":13.77,"v":1.04},{"p":14.3,"v":2.1},{"p":15.12,"v":1.13},{"p":15.95,"v":0.94},{"p":17.2,"v":1.22},{"p":18.5,"v":0.9},{"p":20.01,"v":1.78},{"p":21.6,"v":2.61},{"p":23.17,"v":1.41},{"p":24.77,"v":0.57},{"p":26.3,"v":0.4},{"p":28.69,"v":1.04},{"p":30.4,"v":1.96},{"p":31.8,"v":2.8},{"p":34.9,"v":3.4},{"p":37,"v":3.07},{"p":39.4,"v":2.7},{"p":44.4,"v":2.15},{"p":50.1,"v":1.87},{"p":57.5,"v":1.69},{"p":65.9,"v":1.96},{"p":76.6,"v":2.33},{"p":85,"v":2.38},{"p":94.5,"v":2.29},{"p":103.3,"v":2.12}],
    "na_h": [{"p":0.503,"v":2.0},{"p":0.509,"v":0.1},{"p":0.516,"v":0.07},{"p":0.522,"v":1.1},{"p":0.529,"v":1.64},{"p":0.535,"v":0.3},{"p":0.542,"v":0.14},{"p":0.548,"v":0.9},{"p":0.555,"v":1.0},{"p":0.562,"v":0.2},{"p":0.569,"v":0.57},{"p":0.576,"v":1.2},{"p":0.584,"v":0.79},{"p":0.591,"v":0.2},{"p":0.598,"v":0.43},{"p":0.606,"v":0.9},{"p":0.613,"v":1.36},{"p":0.621,"v":0.3},{"p":0.629,"v":0.14},{"p":0.636,"v":1.0},{"p":0.644,"v":1.14},{"p":0.652,"v":0.4},{"p":0.66,"v":1.86},{"p":0.668,"v":0.5},{"p":0.677,"v":0.14},{"p":0.685,"v":1.1},{"p":0.694,"v":0.72},{"p":0.702,"v":0.2},{"p":0.711,"v":0.29},{"p":0.72,"v":1.0},{"p":0.729,"v":1.29},{"p":0.738,"v":0.3},{"p":0.747,"v":0.07},{"p":0.756,"v":0.8},{"p":0.766,"v":1.57},{"p":0.775,"v":0.5},{"p":0.785,"v":0.21},{"p":0.795,"v":1.0},{"p":0.805,"v":0.93},{"p":0.815,"v":0.2},{"p":0.825,"v":0.43},{"p":0.835,"v":1.2},{"p":0.845,"v":0.93},{"p":0.856,"v":0.2},{"p":0.867,"v":0.07},{"p":0.877,"v":0.8},{"p":0.888,"v":1.57},{"p":0.899,"v":0.6},{"p":0.91,"v":2.07},{"p":0.922,"v":0.71},{"p":0.933,"v":0.43},{"p":0.947,"v":0.43},{"p":0.958,"v":1.2},{"p":0.971,"v":3.76},{"p":0.98,"v":1.0},{"p":0.99,"v":0.36},{"p":1.005,"v":2.58},{"p":1.018,"v":0.9},{"p":1.03,"v":0.57},{"p":1.043,"v":1.6},{"p":1.056,"v":2.29},{"p":1.069,"v":0.6},{"p":1.082,"v":0.36},{"p":1.095,"v":1.4},{"p":1.109,"v":2.47},{"p":1.123,"v":1.0},{"p":1.137,"v":3.36},{"p":1.151,"v":1.2},{"p":1.166,"v":0.43},{"p":1.18,"v":1.2},{"p":1.195,"v":1.86},{"p":1.21,"v":0.8},{"p":1.225,"v":0.43},{"p":1.24,"v":1.5},{"p":1.255,"v":2.5},{"p":1.27,"v":0.9},{"p":1.286,"v":0.14},{"p":1.302,"v":0.9},{"p":1.319,"v":1.43},{"p":1.335,"v":0.7},{"p":1.352,"v":0.64},{"p":1.368,"v":1.6},{"p":1.385,"v":2.79},{"p":1.402,"v":0.5},{"p":1.42,"v":1.64},{"p":1.445,"v":0.9},{"p":1.47,"v":0.36},{"p":1.5,"v":1.2},{"p":1.529,"v":1.86},{"p":1.56,"v":0.8},{"p":1.591,"v":0.57},{"p":1.62,"v":1.5},{"p":1.647,"v":2.83},{"p":1.675,"v":0.7},{"p":1.705,"v":0.71},{"p":1.74,"v":1.5},{"p":1.774,"v":3.36},{"p":1.805,"v":0.8},{"p":1.837,"v":0.21},{"p":1.87,"v":1.0},{"p":1.91,"v":1.93},{"p":1.95,"v":1.2},{"p":1.988,"v":3.11},{"p":2.02,"v":0.8},{"p":2.057,"v":0.07},{"p":2.1,"v":1.5},{"p":2.141,"v":3.25},{"p":2.18,"v":1.1},{"p":2.227,"v":0.43},{"p":2.26,"v":1.4},{"p":2.294,"v":2.93},{"p":2.34,"v":1.0},{"p":2.386,"v":0.36},{"p":2.46,"v":1.5},{"p":2.532,"v":3.22},{"p":2.58,"v":1.0},{"p":2.634,"v":0.14},{"p":2.7,"v":0.9},{"p":2.768,"v":1.79},{"p":2.85,"v":0.9},{"p":2.937,"v":0.57},{"p":3.03,"v":1.0},{"p":3.131,"v":1.43},{"p":3.29,"v":0.71},{"p":3.456,"v":1.57},{"p":3.578,"v":2.4},{"p":3.721,"v":0.14},{"p":3.8,"v":1.0},{"p":3.873,"v":1.43},{"p":3.96,"v":0.6},{"p":4.049,"v":0.07},{"p":4.18,"v":0.8},{"p":4.317,"v":1.36},{"p":4.492,"v":0.07},{"p":4.674,"v":2.11},{"p":4.836,"v":0.57},{"p":4.92,"v":0.9},{"p":5.007,"v":0.93},{"p":5.183,"v":0.43},{"p":5.392,"v":0.57},{"p":5.61,"v":0.04},{"p":5.808,"v":2.36},{"p":6.041,"v":0.43},{"p":6.254,"v":0.79},{"p":6.475,"v":0.57},{"p":6.736,"v":0.96},{"p":7.075,"v":0.04},{"p":7.508,"v":2.47},{"p":7.889,"v":0.43},{"p":8.208,"v":0.43},{"p":8.623,"v":0.36},{"p":9.242,"v":0.86},{"p":9.612,"v":0.29},{"p":9.902,"v":0.21},{"p":10.25,"v":2.22},{"p":10.77,"v":2.29},{"p":11.43,"v":3.11},{"p":11.89,"v":2.0},{"p":12.68,"v":0.0},{"p":13.45,"v":0.36},{"p":14.49,"v":2.29},{"p":15.22,"v":1.79},{"p":16.39,"v":0.07},{"p":17.66,"v":0.71},{"p":19.01,"v":1.0},{"p":20.99,"v":3.0},{"p":22.04,"v":2.5},{"p":23.74,"v":0.25},{"p":25.82,"v":1.54},{"p":27.13,"v":1.43},{"p":28.93,"v":2.0},{"p":29.95,"v":2.5},{"p":31.17,"v":3.93},{"p":33.06,"v":4.47},{"p":35.26,"v":3.93},{"p":37.97,"v":2.29},{"p":41.91,"v":1.14},{"p":44.04,"v":1.1},{"p":51.07,"v":1.36},{"p":59.24,"v":1.72},{"p":68.69,"v":2.29},{"p":79.65,"v":2.93},{"p":87.94,"v":2.86},{"p":104.5,"v":2.29}],
    "frv_h": [{"p":0.2,"v":5.63},{"p":0.41,"v":5.46},{"p":0.97,"v":5.11},{"p":2.8,"v":4.72},{"p":9.8,"v":4.25},{"p":25.9,"v":3.72},{"p":50,"v":3.1},{"p":70,"v":2.55},{"p":85,"v":2.1},{"p":95,"v":1.6},{"p":99,"v":1.1},{"p":100,"v":0}],
    "frv_p": [{"p":0.2,"v":4.03},{"p":0.97,"v":3.64},{"p":2.8,"v":3.25},{"p":9.8,"v":2.82},{"p":25.9,"v":2.43},{"p":50,"v":2.0},{"p":75,"v":1.55},{"p":90,"v":1.1},{"p":97,"v":0.75},{"p":99.5,"v":0.4},{"p":100,"v":0}],
    "fwf_h": [{"p":0.2,"v":3.28},{"p":0.97,"v":3.09},{"p":2.8,"v":2.87},{"p":9.8,"v":2.55},{"p":25.9,"v":2.23},{"p":50,"v":1.95},{"p":75,"v":1.69},{"p":90,"v":1.43},{"p":97.5,"v":1.18},{"p":99.7,"v":0.7},{"p":100,"v":0}],
    "fwf_p": [{"p":0.2,"v":1.5},{"p":0.97,"v":1.12},{"p":2.8,"v":0.8},{"p":9.8,"v":0.67},{"p":25.9,"v":0.57},{"p":50,"v":0.48},{"p":75,"v":0.45},{"p":95,"v":0.35},{"p":100,"v":0}],
    "fs_h": [{"p":0.21,"v":2.49},{"p":1,"v":2.3},{"p":4.64,"v":2.05},{"p":10,"v":1.9},{"p":22.7,"v":1.75},{"p":46,"v":1.56},{"p":70,"v":1.31},{"p":86,"v":1.11},{"p":95,"v":0.87},{"p":99.5,"v":0.6},{"p":100,"v":0}],
    "fs_p": [{"p":0.21,"v":6.38},{"p":1,"v":5.69},{"p":2.15,"v":5.25},{"p":4.64,"v":4.81},{"p":10,"v":4.41},{"p":22.7,"v":3.92},{"p":46,"v":3.38},{"p":70,"v":2.84},{"p":86,"v":2.39},{"p":95,"v":1.75},{"p":99.5,"v":1.0},{"p":100,"v":0}],
    "fha_h": [{"p":0.21,"v":3.29},{"p":1,"v":2.95},{"p":4.64,"v":2.58},{"p":10,"v":2.39},{"p":22.7,"v":2.12},{"p":46,"v":1.78},{"p":70,"v":1.48},{"p":86,"v":1.22},{"p":95,"v":0.84},{"p":99.5,"v":0.5},{"p":100,"v":0}],
    "fha_p": [{"p":0.2,"v":7.4},{"p":1,"v":6.0},{"p":3.4,"v":4.91},{"p":6.0,"v":4.38},{"p":10,"v":4.04},{"p":22.7,"v":3.59},{"p":46,"v":3.03},{"p":70,"v":2.5},{"p":86,"v":1.9},{"p":95,"v":1.22},{"p":99.5,"v":0.6},{"p":100,"v":0}],
    "fhb_h": [{"p":0.2,"v":4.75},{"p":0.4,"v":4.47},{"p":1,"v":4.23},{"p":2.15,"v":4.0},{"p":4.64,"v":3.72},{"p":10,"v":3.45},{"p":22.7,"v":3.11},{"p":46,"v":2.7},{"p":70,"v":2.39},{"p":86,"v":2.08},{"p":95,"v":1.67},{"p":99.5,"v":1.0},{"p":100,"v":0}],
    "fhg_h": [{"p":0.2,"v":7.0},{"p":1,"v":5.99},{"p":2.15,"v":5.67},{"p":4.64,"v":5.3},{"p":10,"v":4.93},{"p":22.7,"v":4.42},{"p":46,"v":3.81},{"p":70,"v":3.35},{"p":86,"v":2.98},{"p":95,"v":2.43},{"p":99.5,"v":1.5},{"p":100,"v":0}],
    "fna_h": [{"p":0.21,"v":4.69},{"p":1,"v":4.36},{"p":2.9,"v":4.0},{"p":10,"v":3.65},{"p":26.5,"v":3.29},{"p":52.5,"v":2.86},{"p":73.7,"v":2.43},{"p":87,"v":2.07},{"p":95,"v":1.72},{"p":99.5,"v":1.0},{"p":100,"v":0}]
  },
  "columns": 2,
  "spacing": {"row": 13, "column": 2},
  "concat": [
    {
      "width": 746, "height": 228,
      "layer": [
        {"data": {"name": "rv_h"}, "mark": {"type": "line", "color": "#4646ff", "strokeWidth": 2, "clip": true, "interpolate": "monotone"},
         "encoding": {
           "x": {"field": "p", "type": "quantitative", "scale": {"type": "log", "domain": [0.5, 130], "nice": false},
                 "axis": {"orient": "bottom", "values": [0.5,0.6,0.7,0.8,0.9,1,2,3,4,5,6,7,8,9,10,20,30,40,50,60,70,80,90,100], "labels": false, "title": null, "tickSize": {"condition": {"test": "datum.value==1||datum.value==10||datum.value==100", "value": -12}, "value": -6}}},
           "y": {"field": "v", "type": "quantitative", "scale": {"domain": [-0.27, 5.72], "nice": false, "zero": false},
                 "axis": {"orient": "left", "values": [0,1,2,3,4,5], "labelExpr": "datum.value==0||datum.value==5 ? format(datum.value,'d') : ''", "tickSize": {"condition": {"test": "datum.value==0||datum.value==5", "value": -11}, "value": -6}, "title": "RV"}}
         }},
        {"data": {"name": "rv_p"}, "mark": {"type": "line", "color": "#a00000", "strokeWidth": 2.2, "clip": true, "interpolate": "monotone"},
         "encoding": {"x": {"field": "p", "type": "quantitative", "axis": null}, "y": {"field": "v", "type": "quantitative", "axis": null}}},
        {"data": {"name": "rv_h"}, "mark": {"type": "line", "strokeOpacity": 0, "clip": true},
         "encoding": {
           "x": {"field": "p", "type": "quantitative", "axis": {"orient": "top", "values": [0.5,0.6,0.7,0.8,0.9,1,2,3,4,5,6,7,8,9,10,20,30,40,50,60,70,80,90,100], "labels": false, "title": null, "tickSize": {"condition": {"test": "datum.value==1||datum.value==10||datum.value==100", "value": -12}, "value": -6}}},
           "y": {"field": "v", "type": "quantitative", "axis": {"orient": "right", "values": [0,1,2,3,4,5], "labels": false, "title": null, "tickSize": {"condition": {"test": "datum.value==0||datum.value==5", "value": -11}, "value": -6}}}
         }},
        {"data": {"name": "lines"}, "mark": {"type": "rule", "color": "black", "strokeWidth": 2, "strokeDash": [2, 4]},
         "encoding": {"x": {"field": "p", "type": "quantitative", "axis": null}}},
        {"data": {"name": "bars"}, "mark": {"type": "rule", "color": "black", "strokeWidth": 1.5},
         "encoding": {"x": {"field": "p", "type": "quantitative", "axis": null}, "x2": {"field": "p2"}, "y": {"field": "v", "type": "quantitative", "axis": null}}},
        {"data": {"name": "annBig"}, "mark": {"type": "text", "font": "DejaVu Sans", "fontStyle": "italic", "fontSize": 28, "align": "left", "baseline": "middle", "color": "black"},
         "encoding": {"x": {"field": "p", "type": "quantitative", "axis": null}, "y": {"field": "v", "type": "quantitative", "axis": null}, "text": {"field": "t"}}},
        {"data": {"name": "annBigSub"}, "mark": {"type": "text", "font": "DejaVu Sans", "fontStyle": "italic", "fontSize": 20, "align": "left", "baseline": "middle", "color": "black"},
         "encoding": {"x": {"field": "p", "type": "quantitative", "axis": null}, "y": {"field": "v", "type": "quantitative", "axis": null}, "text": {"field": "t"}}},
        {"data": {"name": "annSmall"}, "mark": {"type": "text", "font": "DejaVu Sans", "fontStyle": "italic", "fontSize": 22, "align": "left", "baseline": "middle", "color": "black"},
         "encoding": {"x": {"field": "p", "type": "quantitative", "axis": null}, "y": {"field": "v", "type": "quantitative", "axis": null}, "text": {"field": "t"}}},
        {"data": {"name": "annSmallSub"}, "mark": {"type": "text", "font": "DejaVu Sans", "fontStyle": "italic", "fontSize": 16, "align": "left", "baseline": "middle", "color": "black"},
         "encoding": {"x": {"field": "p", "type": "quantitative", "axis": null}, "y": {"field": "v", "type": "quantitative", "axis": null}, "text": {"field": "t"}}},
        {"data": {"name": "annDen"}, "mark": {"type": "text", "font": "DejaVu Sans", "fontSize": 22, "align": "center", "baseline": "middle", "color": "black"},
         "encoding": {"x": {"field": "p", "type": "quantitative", "axis": null}, "y": {"field": "v", "type": "quantitative", "axis": null}, "text": {"field": "t"}}}
      ]
    },
    {
      "width": 248, "height": 228,
      "layer": [
        {"data": {"name": "frv_h"}, "mark": {"type": "line", "color": "#4646ff", "strokeWidth": 4, "clip": true, "interpolate": "monotone"},
         "encoding": {
           "x": {"field": "p", "type": "quantitative", "scale": {"type": "log", "domain": [0.2, 107], "nice": false},
                 "axis": {"orient": "bottom", "values": [1, 10, 100], "labels": false, "title": null, "tickSize": -12}},
           "y": {"field": "v", "type": "quantitative", "scale": {"domain": [-0.27, 5.72], "nice": false, "zero": false},
                 "axis": {"orient": "left", "values": [0,1,2,3,4,5], "labels": false, "title": null, "tickSize": {"condition": {"test": "datum.value==0||datum.value==5", "value": -11}, "value": -6}}}
         }},
        {"data": {"name": "frv_p"}, "mark": {"type": "line", "color": "#a00000", "strokeWidth": 4, "clip": true, "interpolate": "monotone"},
         "encoding": {"x": {"field": "p", "type": "quantitative", "axis": null}, "y": {"field": "v", "type": "quantitative", "axis": null}}},
        {"data": {"name": "frv_h"}, "mark": {"type": "line", "strokeOpacity": 0, "clip": true},
         "encoding": {
           "x": {"field": "p", "type": "quantitative", "axis": {"orient": "top", "values": [1, 10, 100], "labels": false, "title": null, "tickSize": -12}},
           "y": {"field": "v", "type": "quantitative", "axis": {"orient": "right", "values": [0,1,2,3,4,5], "labels": false, "title": null, "tickSize": {"condition": {"test": "datum.value==0||datum.value==5", "value": -11}, "value": -6}}}
         }},
        {"data": {"name": "legend"}, "mark": {"type": "text", "font": "DejaVu Serif", "fontWeight": "bold", "fontSize": 34, "align": "left", "baseline": "middle"},
         "encoding": {"x": {"field": "p", "type": "quantitative", "axis": null}, "y": {"field": "v", "type": "quantitative", "axis": null}, "text": {"field": "t"},
                      "color": {"field": "t", "type": "nominal", "scale": {"domain": ["HARPS", "PFS"], "range": ["#4646ff", "#a00000"]}, "legend": null}}}
      ]
    },
    {
      "width": 746, "height": 228,
      "layer": [
        {"data": {"name": "wf_h"}, "mark": {"type": "line", "color": "#4646ff", "strokeWidth": 2, "clip": true, "interpolate": "monotone"},
         "encoding": {
           "x": {"field": "p", "type": "quantitative", "scale": {"type": "log", "domain": [0.5, 130], "nice": false},
                 "axis": {"orient": "bottom", "values": [0.5,0.6,0.7,0.8,0.9,1,2,3,4,5,6,7,8,9,10,20,30,40,50,60,70,80,90,100], "labels": false, "title": null, "tickSize": {"condition": {"test": "datum.value==1||datum.value==10||datum.value==100", "value": -12}, "value": -6}}},
           "y": {"field": "v", "type": "quantitative", "scale": {"domain": [-0.2, 4.19], "nice": false, "zero": false},
                 "axis": {"orient": "left", "values": [0,0.625,1.25,1.875,2.5,3.125,3.75], "labelExpr": "datum.value==0||datum.value==2.5 ? format(datum.value,'.1f') : ''", "tickSize": {"condition": {"test": "datum.value==0||datum.value==2.5", "value": -11}, "value": -6}, "title": "WF"}}
         }},
        {"data": {"name": "wf_p"}, "mark": {"type": "line", "color": "#a00000", "strokeWidth": 2.2, "clip": true, "interpolate": "monotone"},
         "encoding": {"x": {"field": "p", "type": "quantitative", "axis": null}, "y": {"field": "v", "type": "quantitative", "axis": null}}},
        {"data": {"name": "wf_h"}, "mark": {"type": "line", "strokeOpacity": 0, "clip": true},
         "encoding": {
           "x": {"field": "p", "type": "quantitative", "axis": {"orient": "top", "values": [0.5,0.6,0.7,0.8,0.9,1,2,3,4,5,6,7,8,9,10,20,30,40,50,60,70,80,90,100], "labels": false, "title": null, "tickSize": {"condition": {"test": "datum.value==1||datum.value==10||datum.value==100", "value": -12}, "value": -6}}},
           "y": {"field": "v", "type": "quantitative", "axis": {"orient": "right", "values": [0,0.625,1.25,1.875,2.5,3.125,3.75], "labels": false, "title": null, "tickSize": {"condition": {"test": "datum.value==0||datum.value==2.5", "value": -11}, "value": -6}}}
         }},
        {"data": {"name": "lines"}, "mark": {"type": "rule", "color": "black", "strokeWidth": 2, "strokeDash": [2, 4]},
         "encoding": {"x": {"field": "p", "type": "quantitative", "axis": null}}}
      ]
    },
    {
      "width": 248, "height": 228,
      "layer": [
        {"data": {"name": "fwf_h"}, "mark": {"type": "line", "color": "#4646ff", "strokeWidth": 4, "clip": true, "interpolate": "monotone"},
         "encoding": {
           "x": {"field": "p", "type": "quantitative", "scale": {"type": "log", "domain": [0.2, 107], "nice": false},
                 "axis": {"orient": "bottom", "values": [1, 10, 100], "labels": false, "title": null, "tickSize": -12}},
           "y": {"field": "v", "type": "quantitative", "scale": {"domain": [-0.2, 4.19], "nice": false, "zero": false},
                 "axis": {"orient": "left", "values": [0,0.625,1.25,1.875,2.5,3.125,3.75], "labels": false, "title": null, "tickSize": {"condition": {"test": "datum.value==0||datum.value==2.5", "value": -11}, "value": -6}}}
         }},
        {"data": {"name": "fwf_p"}, "mark": {"type": "line", "color": "#a00000", "strokeWidth": 4, "clip": true, "interpolate": "monotone"},
         "encoding": {"x": {"field": "p", "type": "quantitative", "axis": null}, "y": {"field": "v", "type": "quantitative", "axis": null}}},
        {"data": {"name": "fwf_h"}, "mark": {"type": "line", "strokeOpacity": 0, "clip": true},
         "encoding": {
           "x": {"field": "p", "type": "quantitative", "axis": {"orient": "top", "values": [1, 10, 100], "labels": false, "title": null, "tickSize": -12}},
           "y": {"field": "v", "type": "quantitative", "axis": {"orient": "right", "values": [0,0.625,1.25,1.875,2.5,3.125,3.75], "labels": false, "title": null, "tickSize": {"condition": {"test": "datum.value==0||datum.value==2.5", "value": -11}, "value": -6}}}
         }}
      ]
    },
    {
      "width": 746, "height": 228,
      "layer": [
        {"data": {"name": "s_h"}, "mark": {"type": "line", "color": "#4646ff", "strokeWidth": 2, "clip": true, "interpolate": "monotone"},
         "encoding": {
           "x": {"field": "p", "type": "quantitative", "scale": {"type": "log", "domain": [0.5, 130], "nice": false},
                 "axis": {"orient": "bottom", "values": [0.5,0.6,0.7,0.8,0.9,1,2,3,4,5,6,7,8,9,10,20,30,40,50,60,70,80,90,100], "labels": false, "title": null, "tickSize": {"condition": {"test": "datum.value==1||datum.value==10||datum.value==100", "value": -12}, "value": -6}}},
           "y": {"field": "v", "type": "quantitative", "scale": {"domain": [-0.31, 6.47], "nice": false, "zero": false},
                 "axis": {"orient": "left", "values": [0,1,2,3,4,5,6], "labelExpr": "datum.value==0||datum.value==5 ? format(datum.value,'d') : ''", "tickSize": {"condition": {"test": "datum.value==0||datum.value==5", "value": -11}, "value": -6}, "title": "S-index"}}
         }},
        {"data": {"name": "s_p"}, "mark": {"type": "line", "color": "#a00000", "strokeWidth": 2.2, "clip": true, "interpolate": "monotone"},
         "encoding": {"x": {"field": "p", "type": "quantitative", "axis": null}, "y": {"field": "v", "type": "quantitative", "axis": null}}},
        {"data": {"name": "s_h"}, "mark": {"type": "line", "strokeOpacity": 0, "clip": true},
         "encoding": {
           "x": {"field": "p", "type": "quantitative", "axis": {"orient": "top", "values": [0.5,0.6,0.7,0.8,0.9,1,2,3,4,5,6,7,8,9,10,20,30,40,50,60,70,80,90,100], "labels": false, "title": null, "tickSize": {"condition": {"test": "datum.value==1||datum.value==10||datum.value==100", "value": -12}, "value": -6}}},
           "y": {"field": "v", "type": "quantitative", "axis": {"orient": "right", "values": [0,1,2,3,4,5,6], "labels": false, "title": null, "tickSize": {"condition": {"test": "datum.value==0||datum.value==5", "value": -11}, "value": -6}}}
         }},
        {"data": {"name": "lines"}, "mark": {"type": "rule", "color": "black", "strokeWidth": 2, "strokeDash": [2, 4]},
         "encoding": {"x": {"field": "p", "type": "quantitative", "axis": null}}}
      ]
    },
    {
      "width": 248, "height": 228,
      "layer": [
        {"data": {"name": "fs_h"}, "mark": {"type": "line", "color": "#4646ff", "strokeWidth": 4, "clip": true, "interpolate": "monotone"},
         "encoding": {
           "x": {"field": "p", "type": "quantitative", "scale": {"type": "log", "domain": [0.2, 107], "nice": false},
                 "axis": {"orient": "bottom", "values": [1, 10, 100], "labels": false, "title": null, "tickSize": -12}},
           "y": {"field": "v", "type": "quantitative", "scale": {"domain": [-0.31, 6.47], "nice": false, "zero": false},
                 "axis": {"orient": "left", "values": [0,1,2,3,4,5,6], "labels": false, "title": null, "tickSize": {"condition": {"test": "datum.value==0||datum.value==5", "value": -11}, "value": -6}}}
         }},
        {"data": {"name": "fs_p"}, "mark": {"type": "line", "color": "#a00000", "strokeWidth": 4, "clip": true, "interpolate": "monotone"},
         "encoding": {"x": {"field": "p", "type": "quantitative", "axis": null}, "y": {"field": "v", "type": "quantitative", "axis": null}}},
        {"data": {"name": "fs_h"}, "mark": {"type": "line", "strokeOpacity": 0, "clip": true},
         "encoding": {
           "x": {"field": "p", "type": "quantitative", "axis": {"orient": "top", "values": [1, 10, 100], "labels": false, "title": null, "tickSize": -12}},
           "y": {"field": "v", "type": "quantitative", "axis": {"orient": "right", "values": [0,1,2,3,4,5,6], "labels": false, "title": null, "tickSize": {"condition": {"test": "datum.value==0||datum.value==5", "value": -11}, "value": -6}}}
         }}
      ]
    },
    {
      "width": 746, "height": 228,
      "layer": [
        {"data": {"name": "ha_h"}, "mark": {"type": "line", "color": "#4646ff", "strokeWidth": 2, "clip": true, "interpolate": "monotone"},
         "encoding": {
           "x": {"field": "p", "type": "quantitative", "scale": {"type": "log", "domain": [0.5, 130], "nice": false},
                 "axis": {"orient": "bottom", "values": [0.5,0.6,0.7,0.8,0.9,1,2,3,4,5,6,7,8,9,10,20,30,40,50,60,70,80,90,100], "labels": false, "title": null, "tickSize": {"condition": {"test": "datum.value==1||datum.value==10||datum.value==100", "value": -12}, "value": -6}}},
           "y": {"field": "v", "type": "quantitative", "scale": {"domain": [-0.23, 4.97], "nice": false, "zero": false},
                 "axis": {"orient": "left", "values": [0,0.625,1.25,1.875,2.5,3.125,3.75,4.375], "labelExpr": "datum.value==0||datum.value==2.5 ? format(datum.value,'.1f') : ''", "tickSize": {"condition": {"test": "datum.value==0||datum.value==2.5", "value": -11}, "value": -6}, "title": "Hα"}}
         }},
        {"data": {"name": "ha_p"}, "mark": {"type": "line", "color": "#a00000", "strokeWidth": 2.2, "clip": true, "interpolate": "monotone"},
         "encoding": {"x": {"field": "p", "type": "quantitative", "axis": null}, "y": {"field": "v", "type": "quantitative", "axis": null}}},
        {"data": {"name": "ha_h"}, "mark": {"type": "line", "strokeOpacity": 0, "clip": true},
         "encoding": {
           "x": {"field": "p", "type": "quantitative", "axis": {"orient": "top", "values": [0.5,0.6,0.7,0.8,0.9,1,2,3,4,5,6,7,8,9,10,20,30,40,50,60,70,80,90,100], "labels": false, "title": null, "tickSize": {"condition": {"test": "datum.value==1||datum.value==10||datum.value==100", "value": -12}, "value": -6}}},
           "y": {"field": "v", "type": "quantitative", "axis": {"orient": "right", "values": [0,0.625,1.25,1.875,2.5,3.125,3.75,4.375], "labels": false, "title": null, "tickSize": {"condition": {"test": "datum.value==0||datum.value==2.5", "value": -11}, "value": -6}}}
         }},
        {"data": {"name": "lines"}, "mark": {"type": "rule", "color": "black", "strokeWidth": 2, "strokeDash": [2, 4]},
         "encoding": {"x": {"field": "p", "type": "quantitative", "axis": null}}}
      ]
    },
    {
      "width": 248, "height": 228,
      "layer": [
        {"data": {"name": "fha_h"}, "mark": {"type": "line", "color": "#4646ff", "strokeWidth": 4, "clip": true, "interpolate": "monotone"},
         "encoding": {
           "x": {"field": "p", "type": "quantitative", "scale": {"type": "log", "domain": [0.2, 107], "nice": false},
                 "axis": {"orient": "bottom", "values": [1, 10, 100], "labels": false, "title": null, "tickSize": -12}},
           "y": {"field": "v", "type": "quantitative", "scale": {"domain": [-0.23, 4.97], "nice": false, "zero": false},
                 "axis": {"orient": "left", "values": [0,0.625,1.25,1.875,2.5,3.125,3.75,4.375], "labels": false, "title": null, "tickSize": {"condition": {"test": "datum.value==0||datum.value==2.5", "value": -11}, "value": -6}}}
         }},
        {"data": {"name": "fha_p"}, "mark": {"type": "line", "color": "#a00000", "strokeWidth": 4, "clip": true, "interpolate": "monotone"},
         "encoding": {"x": {"field": "p", "type": "quantitative", "axis": null}, "y": {"field": "v", "type": "quantitative", "axis": null}}},
        {"data": {"name": "fha_h"}, "mark": {"type": "line", "strokeOpacity": 0, "clip": true},
         "encoding": {
           "x": {"field": "p", "type": "quantitative", "axis": {"orient": "top", "values": [1, 10, 100], "labels": false, "title": null, "tickSize": -12}},
           "y": {"field": "v", "type": "quantitative", "axis": {"orient": "right", "values": [0,0.625,1.25,1.875,2.5,3.125,3.75,4.375], "labels": false, "title": null, "tickSize": {"condition": {"test": "datum.value==0||datum.value==2.5", "value": -11}, "value": -6}}}
         }}
      ]
    },
    {
      "width": 746, "height": 228,
      "layer": [
        {"data": {"name": "hb_h"}, "mark": {"type": "line", "color": "#4646ff", "strokeWidth": 2, "clip": true, "interpolate": "monotone"},
         "encoding": {
           "x": {"field": "p", "type": "quantitative", "scale": {"type": "log", "domain": [0.5, 130], "nice": false},
                 "axis": {"orient": "bottom", "values": [0.5,0.6,0.7,0.8,0.9,1,2,3,4,5,6,7,8,9,10,20,30,40,50,60,70,80,90,100], "labels": false, "title": null, "tickSize": {"condition": {"test": "datum.value==1||datum.value==10||datum.value==100", "value": -12}, "value": -6}}},
           "y": {"field": "v", "type": "quantitative", "scale": {"domain": [-0.21, 4.5], "nice": false, "zero": false},
                 "axis": {"orient": "left", "values": [0,0.625,1.25,1.875,2.5,3.125,3.75,4.375], "labelExpr": "datum.value==0||datum.value==2.5 ? format(datum.value,'.1f') : ''", "tickSize": {"condition": {"test": "datum.value==0||datum.value==2.5", "value": -11}, "value": -6}, "title": "Hβ"}}
         }},
        {"data": {"name": "hb_h"}, "mark": {"type": "line", "strokeOpacity": 0, "clip": true},
         "encoding": {
           "x": {"field": "p", "type": "quantitative", "axis": {"orient": "top", "values": [0.5,0.6,0.7,0.8,0.9,1,2,3,4,5,6,7,8,9,10,20,30,40,50,60,70,80,90,100], "labels": false, "title": null, "tickSize": {"condition": {"test": "datum.value==1||datum.value==10||datum.value==100", "value": -12}, "value": -6}}},
           "y": {"field": "v", "type": "quantitative", "axis": {"orient": "right", "values": [0,0.625,1.25,1.875,2.5,3.125,3.75,4.375], "labels": false, "title": null, "tickSize": {"condition": {"test": "datum.value==0||datum.value==2.5", "value": -11}, "value": -6}}}
         }},
        {"data": {"name": "lines"}, "mark": {"type": "rule", "color": "black", "strokeWidth": 2, "strokeDash": [2, 4]},
         "encoding": {"x": {"field": "p", "type": "quantitative", "axis": null}}}
      ]
    },
    {
      "width": 248, "height": 228,
      "layer": [
        {"data": {"name": "fhb_h"}, "mark": {"type": "line", "color": "#4646ff", "strokeWidth": 4, "clip": true, "interpolate": "monotone"},
         "encoding": {
           "x": {"field": "p", "type": "quantitative", "scale": {"type": "log", "domain": [0.2, 107], "nice": false},
                 "axis": {"orient": "bottom", "values": [1, 10, 100], "labels": false, "title": null, "tickSize": -12}},
           "y": {"field": "v", "type": "quantitative", "scale": {"domain": [-0.21, 4.5], "nice": false, "zero": false},
                 "axis": {"orient": "left", "values": [0,0.625,1.25,1.875,2.5,3.125,3.75,4.375], "labels": false, "title": null, "tickSize": {"condition": {"test": "datum.value==0||datum.value==2.5", "value": -11}, "value": -6}}}
         }},
        {"data": {"name": "fhb_h"}, "mark": {"type": "line", "strokeOpacity": 0, "clip": true},
         "encoding": {
           "x": {"field": "p", "type": "quantitative", "axis": {"orient": "top", "values": [1, 10, 100], "labels": false, "title": null, "tickSize": -12}},
           "y": {"field": "v", "type": "quantitative", "axis": {"orient": "right", "values": [0,0.625,1.25,1.875,2.5,3.125,3.75,4.375], "labels": false, "title": null, "tickSize": {"condition": {"test": "datum.value==0||datum.value==2.5", "value": -11}, "value": -6}}}
         }}
      ]
    },
    {
      "width": 746, "height": 228,
      "layer": [
        {"data": {"name": "hg_h"}, "mark": {"type": "line", "color": "#4646ff", "strokeWidth": 2, "clip": true, "interpolate": "monotone"},
         "encoding": {
           "x": {"field": "p", "type": "quantitative", "scale": {"type": "log", "domain": [0.5, 130], "nice": false},
                 "axis": {"orient": "bottom", "values": [0.5,0.6,0.7,0.8,0.9,1,2,3,4,5,6,7,8,9,10,20,30,40,50,60,70,80,90,100], "labels": false, "title": null, "tickSize": {"condition": {"test": "datum.value==1||datum.value==10||datum.value==100", "value": -12}, "value": -6}}},
           "y": {"field": "v", "type": "quantitative", "scale": {"domain": [-0.29, 6.0], "nice": false, "zero": false},
                 "axis": {"orient": "left", "values": [0,1,2,3,4,5], "labelExpr": "datum.value==0||datum.value==5 ? format(datum.value,'d') : ''", "tickSize": {"condition": {"test": "datum.value==0||datum.value==5", "value": -11}, "value": -6}, "title": "Hγ"}}
         }},
        {"data": {"name": "hg_h"}, "mark": {"type": "line", "strokeOpacity": 0, "clip": true},
         "encoding": {
           "x": {"field": "p", "type": "quantitative", "axis": {"orient": "top", "values": [0.5,0.6,0.7,0.8,0.9,1,2,3,4,5,6,7,8,9,10,20,30,40,50,60,70,80,90,100], "labels": false, "title": null, "tickSize": {"condition": {"test": "datum.value==1||datum.value==10||datum.value==100", "value": -12}, "value": -6}}},
           "y": {"field": "v", "type": "quantitative", "axis": {"orient": "right", "values": [0,1,2,3,4,5], "labels": false, "title": null, "tickSize": {"condition": {"test": "datum.value==0||datum.value==5", "value": -11}, "value": -6}}}
         }},
        {"data": {"name": "lines"}, "mark": {"type": "rule", "color": "black", "strokeWidth": 2, "strokeDash": [2, 4]},
         "encoding": {"x": {"field": "p", "type": "quantitative", "axis": null}}}
      ]
    },
    {
      "width": 248, "height": 228,
      "layer": [
        {"data": {"name": "fhg_h"}, "mark": {"type": "line", "color": "#4646ff", "strokeWidth": 4, "clip": true, "interpolate": "monotone"},
         "encoding": {
           "x": {"field": "p", "type": "quantitative", "scale": {"type": "log", "domain": [0.2, 107], "nice": false},
                 "axis": {"orient": "bottom", "values": [1, 10, 100], "labels": false, "title": null, "tickSize": -12}},
           "y": {"field": "v", "type": "quantitative", "scale": {"domain": [-0.29, 6.0], "nice": false, "zero": false},
                 "axis": {"orient": "left", "values": [0,1,2,3,4,5], "labels": false, "title": null, "tickSize": {"condition": {"test": "datum.value==0||datum.value==5", "value": -11}, "value": -6}}}
         }},
        {"data": {"name": "fhg_h"}, "mark": {"type": "line", "strokeOpacity": 0, "clip": true},
         "encoding": {
           "x": {"field": "p", "type": "quantitative", "axis": {"orient": "top", "values": [1, 10, 100], "labels": false, "title": null, "tickSize": -12}},
           "y": {"field": "v", "type": "quantitative", "axis": {"orient": "right", "values": [0,1,2,3,4,5], "labels": false, "title": null, "tickSize": {"condition": {"test": "datum.value==0||datum.value==5", "value": -11}, "value": -6}}}
         }}
      ]
    },
    {
      "width": 746, "height": 228,
      "layer": [
        {"data": {"name": "na_h"}, "mark": {"type": "line", "color": "#4646ff", "strokeWidth": 2, "clip": true, "interpolate": "monotone"},
         "encoding": {
           "x": {"field": "p", "type": "quantitative", "scale": {"type": "log", "domain": [0.5, 130], "nice": false},
                 "axis": {"orient": "bottom", "values": [0.5,0.6,0.7,0.8,0.9,1,2,3,4,5,6,7,8,9,10,20,30,40,50,60,70,80,90,100], "labelExpr": "datum.value==1||datum.value==10||datum.value==100 ? format(datum.value,'d') : ''", "title": "Period [days]", "labelPadding": 26, "titlePadding": 8, "tickSize": {"condition": {"test": "datum.value==1||datum.value==10||datum.value==100", "value": -12}, "value": -6}}},
           "y": {"field": "v", "type": "quantitative", "scale": {"domain": [-0.22, 4.71], "nice": false, "zero": false},
                 "axis": {"orient": "left", "values": [0,0.625,1.25,1.875,2.5,3.125,3.75,4.375], "labelExpr": "datum.value==0||datum.value==2.5 ? format(datum.value,'.1f') : ''", "tickSize": {"condition": {"test": "datum.value==0||datum.value==2.5", "value": -11}, "value": -6}, "title": "NaD"}}
         }},
        {"data": {"name": "na_h"}, "mark": {"type": "line", "strokeOpacity": 0, "clip": true},
         "encoding": {
           "x": {"field": "p", "type": "quantitative", "axis": {"orient": "top", "values": [0.5,0.6,0.7,0.8,0.9,1,2,3,4,5,6,7,8,9,10,20,30,40,50,60,70,80,90,100], "labels": false, "title": null, "tickSize": {"condition": {"test": "datum.value==1||datum.value==10||datum.value==100", "value": -12}, "value": -6}}},
           "y": {"field": "v", "type": "quantitative", "axis": {"orient": "right", "values": [0,0.625,1.25,1.875,2.5,3.125,3.75,4.375], "labels": false, "title": null, "tickSize": {"condition": {"test": "datum.value==0||datum.value==2.5", "value": -11}, "value": -6}}}
         }},
        {"data": {"name": "lines"}, "mark": {"type": "rule", "color": "black", "strokeWidth": 2, "strokeDash": [2, 4]},
         "encoding": {"x": {"field": "p", "type": "quantitative", "axis": null}}}
      ]
    },
    {
      "width": 248, "height": 228,
      "layer": [
        {"data": {"name": "fna_h"}, "mark": {"type": "line", "color": "#4646ff", "strokeWidth": 4, "clip": true, "interpolate": "monotone"},
         "encoding": {
           "x": {"field": "p", "type": "quantitative", "scale": {"type": "log", "domain": [0.2, 107], "nice": false},
                 "axis": {"orient": "bottom", "values": [1, 10, 100], "labelExpr": "format(datum.value,'d')", "title": "FAP [%]", "labelPadding": 26, "titlePadding": 8, "tickSize": -12}},
           "y": {"field": "v", "type": "quantitative", "scale": {"domain": [-0.22, 4.71], "nice": false, "zero": false},
                 "axis": {"orient": "left", "values": [0,0.625,1.25,1.875,2.5,3.125,3.75,4.375], "labels": false, "title": null, "tickSize": {"condition": {"test": "datum.value==0||datum.value==2.5", "value": -11}, "value": -6}}}
         }},
        {"data": {"name": "fna_h"}, "mark": {"type": "line", "strokeOpacity": 0, "clip": true},
         "encoding": {
           "x": {"field": "p", "type": "quantitative", "axis": {"orient": "top", "values": [1, 10, 100], "labels": false, "title": null, "tickSize": -12}},
           "y": {"field": "v", "type": "quantitative", "axis": {"orient": "right", "values": [0,0.625,1.25,1.875,2.5,3.125,3.75,4.375], "labels": false, "title": null, "tickSize": {"condition": {"test": "datum.value==0||datum.value==2.5", "value": -11}, "value": -6}}}
         }}
      ]
    }
  ],
  "config": {
    "view": {"stroke": "black", "strokeWidth": 2.5},
    "axis": {"domain": false, "grid": false, "labelFont": "DejaVu Serif", "labelFontSize": 34, "labelColor": "black", "titleFont": "DejaVu Serif", "titleFontSize": 34, "titleFontWeight": "normal", "titleColor": "black", "tickColor": "black", "tickWidth": 2, "labelOverlap": false, "labelFlush": false, "labelPadding": 25, "titlePadding": 11},
    "line": {"strokeJoin": "round"}
  }
}
